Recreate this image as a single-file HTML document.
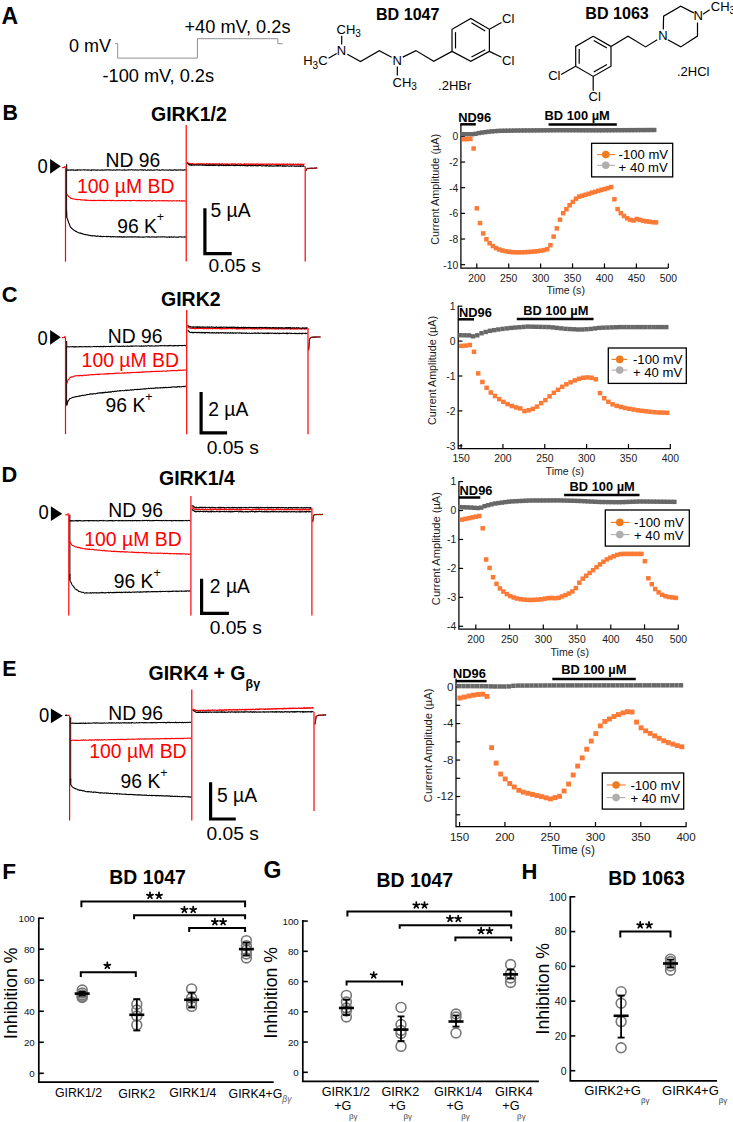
<!DOCTYPE html><html><head><meta charset="utf-8"><title>Figure</title>
<style>html,body{margin:0;padding:0;background:#fff;}svg{display:block;}text{font-family:"Liberation Sans",sans-serif;}</style></head><body>
<svg width="733" height="1122" viewBox="0 0 733 1122">
<rect width="733" height="1122" fill="#fff"/>
<text x="1.4" y="23.8" font-size="23.0" font-weight="bold">A</text>
<polyline points="115.00,43.70 117.70,43.70 117.70,58.10 197.40,58.10 197.40,38.70 277.90,38.70 277.90,43.70 282.80,43.70" fill="none" stroke="#909090" stroke-width="1.0"/>
<text x="69.0" y="51.5" font-size="18.0">0 mV</text>
<text x="184.5" y="32.5" font-size="18.2">+40 mV, 0.2s</text>
<text x="102.5" y="82.2" font-size="18.2">-100 mV, 0.2s</text>
<text x="376.0" y="20.2" font-size="16.1" font-weight="bold">BD 1047</text>
<text x="336.5" y="33.6" font-size="13.0">CH<tspan font-size="10" dy="3.4">3</tspan></text>
<line x1="341.70" y1="35.70" x2="341.70" y2="44.50" stroke="#000" stroke-width="1.2"/>
<text x="341.5" y="54.6" font-size="13.0" text-anchor="middle">N</text>
<text x="303.2" y="65.4" font-size="13.0">H<tspan font-size="10" dy="3.4">3</tspan><tspan dy="-3.4">C</tspan></text>
<line x1="328.60" y1="58.30" x2="336.70" y2="53.50" stroke="#000" stroke-width="1.2"/>
<polyline points="347.30,54.20 360.50,61.60 379.30,50.80 391.60,57.30" fill="none" stroke="#000" stroke-width="1.2"/>
<text x="397.2" y="64.9" font-size="13.0" text-anchor="middle">N</text>
<line x1="397.30" y1="66.50" x2="397.30" y2="75.50" stroke="#000" stroke-width="1.2"/>
<text x="392.5" y="86.8" font-size="13.0">CH<tspan font-size="10" dy="3.4">3</tspan></text>
<polyline points="402.80,57.10 415.90,50.60 433.70,61.20 452.00,51.40" fill="none" stroke="#000" stroke-width="1.2"/>
<polyline points="452.00,51.40 452.00,29.30 470.80,18.40 489.40,29.30 489.40,51.40 470.80,61.40 452.00,51.40" fill="none" stroke="#000" stroke-width="1.2"/>
<line x1="455.50" y1="48.46" x2="455.50" y2="32.11" stroke="#000" stroke-width="1.2"/>
<line x1="471.46" y1="22.84" x2="485.22" y2="30.91" stroke="#000" stroke-width="1.2"/>
<line x1="485.24" y1="49.66" x2="471.48" y2="57.06" stroke="#000" stroke-width="1.2"/>
<line x1="489.40" y1="29.30" x2="501.50" y2="22.60" stroke="#000" stroke-width="1.2"/>
<line x1="489.40" y1="51.40" x2="501.50" y2="57.30" stroke="#000" stroke-width="1.2"/>
<text x="502.0" y="23.1" font-size="13.0">Cl</text>
<text x="502.0" y="65.4" font-size="13.0">Cl</text>
<text x="438.1" y="89.6" font-size="13.0">.2HBr</text>
<text x="585.3" y="18.6" font-size="16.1" font-weight="bold">BD 1063</text>
<polyline points="593.20,36.20 611.00,46.40 611.00,66.20 593.20,76.40 575.70,66.20 575.70,46.40 593.20,36.20" fill="none" stroke="#000" stroke-width="1.2"/>
<line x1="593.74" y1="40.54" x2="606.91" y2="48.09" stroke="#000" stroke-width="1.2"/>
<line x1="579.20" y1="63.63" x2="579.20" y2="48.97" stroke="#000" stroke-width="1.2"/>
<line x1="606.91" y1="64.51" x2="593.74" y2="72.06" stroke="#000" stroke-width="1.2"/>
<line x1="575.70" y1="66.20" x2="561.10" y2="74.40" stroke="#000" stroke-width="1.2"/>
<line x1="593.20" y1="76.40" x2="593.20" y2="90.70" stroke="#000" stroke-width="1.2"/>
<text x="548.2" y="80.3" font-size="13.0">Cl</text>
<text x="588.6" y="100.7" font-size="13.0">Cl</text>
<polyline points="611.00,46.40 628.00,36.20 645.60,46.90 657.20,39.80" fill="none" stroke="#000" stroke-width="1.2"/>
<text x="663.0" y="40.3" font-size="13.0" text-anchor="middle">N</text>
<polyline points="663.30,29.50 663.60,16.20 680.70,6.20 693.80,12.90" fill="none" stroke="#000" stroke-width="1.2"/>
<text x="698.3" y="20.1" font-size="13.0" text-anchor="middle">N</text>
<polyline points="697.50,22.40 697.50,36.10 680.70,46.90 667.80,39.80" fill="none" stroke="#000" stroke-width="1.2"/>
<line x1="703.00" y1="14.20" x2="709.70" y2="9.80" stroke="#000" stroke-width="1.2"/>
<text x="710.8" y="10.8" font-size="13.0">CH<tspan font-size="10" dy="3.4">3</tspan></text>
<text x="677.0" y="75.9" font-size="13.0">.2HCl</text>
<text x="2.5" y="120.2" font-size="21.4" font-weight="bold">B</text>
<text x="151" y="121" font-size="19.5" font-weight="bold">GIRK1/2</text>
<text x="0" y="0" font-size="18.8" transform="translate(37.6,173.4) scale(0.98,1.1)">0</text>
<polygon points="50.1,158.9 60.8,166.3 50.1,173.7" fill="#000"/>
<polyline points="62.10,167.70 64.50,167.50 64.90,166.60 65.50,166.80" fill="none" stroke="#ff0000" stroke-width="1.2"/>
<polyline points="66.60,164.20 66.80,170.11 67.30,170.02 67.80,170.26 68.30,169.96 68.80,170.19 69.30,170.09 69.80,169.93 70.30,170.15 70.80,169.91 71.30,170.10 71.80,169.91 72.30,169.91 72.80,170.07 73.30,170.26 73.80,169.91 74.30,169.95 74.80,170.14 75.30,170.30 75.80,170.10 76.30,170.00 76.80,170.29 77.30,169.81 77.80,170.21 78.30,169.92 78.80,169.84 79.30,169.82 79.80,169.91 80.30,170.16 80.80,169.84 81.30,170.04 81.80,170.07 82.30,169.94 82.80,170.02 83.30,169.78 83.80,169.78 84.30,169.85 84.80,170.09 85.30,169.96 85.80,169.91 86.30,170.04 86.80,169.98 87.30,169.90 87.80,170.15 88.30,170.10 88.80,169.87 89.30,170.04 89.80,170.01 90.30,170.19 90.80,170.11 91.30,169.89 91.80,170.24 92.30,169.81 92.80,169.96 93.30,170.13 93.80,169.83 94.30,169.99 94.80,169.77 95.30,170.08 95.80,170.13 96.30,170.04 96.80,170.19 97.30,169.91 97.80,170.10 98.30,170.05 98.80,170.04 99.30,169.98 99.80,170.17 100.30,170.22 100.80,169.99 101.30,170.08 101.80,169.78 102.30,170.10 102.80,170.07 103.30,170.25 103.80,170.16 104.30,169.89 104.80,169.94 105.30,170.08 105.80,169.76 106.30,169.98 106.80,169.83 107.30,169.81 107.80,169.78 108.30,170.13 108.80,169.81 109.30,169.87 109.80,169.95 110.30,170.19 110.80,169.79 111.30,169.97 111.80,170.02 112.30,170.19 112.80,170.16 113.30,170.18 113.80,169.89 114.30,169.96 114.80,169.93 115.30,170.19 115.80,170.23 116.30,169.83 116.80,169.84 117.30,169.87 117.80,169.87 118.30,169.99 118.80,170.04 119.30,169.88 119.80,169.75 120.30,169.96 120.80,169.93 121.30,170.03 121.80,170.23 122.30,170.10 122.80,170.01 123.30,170.06 123.80,170.09 124.30,169.78 124.80,170.20 125.30,170.14 125.80,170.19 126.30,170.15 126.80,169.95 127.30,169.95 127.80,169.80 128.30,170.07 128.80,169.78 129.30,169.78 129.80,169.85 130.30,169.83 130.80,169.92 131.30,169.78 131.80,169.75 132.30,169.83 132.80,169.80 133.30,169.93 133.80,169.76 134.30,170.19 134.80,170.06 135.30,169.82 135.80,169.88 136.30,169.92 136.80,169.93 137.30,169.81 137.80,170.17 138.30,170.25 138.80,169.98 139.30,169.99 139.80,169.79 140.30,169.80 140.80,169.92 141.30,169.88 141.80,170.16 142.30,169.83 142.80,169.76 143.30,170.23 143.80,170.01 144.30,169.82 144.80,170.02 145.30,169.76 145.80,170.01 146.30,170.24 146.80,170.18 147.30,170.10 147.80,169.88 148.30,169.93 148.80,169.83 149.30,170.14 149.80,170.02 150.30,170.14 150.80,169.91 151.30,169.86 151.80,170.16 152.30,170.24 152.80,170.18 153.30,170.15 153.80,170.16 154.30,170.12 154.80,169.86 155.30,170.01 155.80,169.93 156.30,169.76 156.80,169.76 157.30,169.89 157.80,169.88 158.30,170.10 158.80,170.23 159.30,169.97 159.80,170.22 160.30,170.24 160.80,170.23 161.30,169.93 161.80,169.86 162.30,169.86 162.80,169.85 163.30,169.85 163.80,170.06 164.30,170.20 164.80,170.17 165.30,169.99 165.80,170.08 166.30,170.15 166.80,169.79 167.30,170.08 167.80,170.20 168.30,170.14 168.80,170.13 169.30,169.99 169.80,169.84 170.30,170.14 170.80,169.92 171.30,170.15 171.80,170.24 172.30,169.95 172.80,169.95 173.30,170.22 173.80,170.11 174.30,169.84 174.80,169.81 175.30,169.83 175.80,170.20 176.30,170.15 176.80,169.82 177.30,170.16 177.80,170.24 178.30,170.08 178.80,169.93 179.30,170.02 179.80,169.82 180.30,169.76 180.80,170.24 181.30,170.07 181.80,170.01 182.30,170.22 182.80,169.97 183.30,170.19 183.80,170.16 184.30,169.86 184.80,169.88 185.30,169.90 185.80,169.87" fill="none" stroke="#000" stroke-width="1.1"/>
<polyline points="66.60,211.30 66.80,217.34 67.30,218.56 67.80,220.02 68.30,221.26 68.80,223.01 69.30,224.06 69.80,225.45 70.30,226.84 70.80,227.50 71.30,227.76 71.80,228.51 72.30,228.80 72.80,229.32 73.30,229.81 73.80,230.06 74.30,230.61 74.80,230.72 75.30,230.86 75.80,231.49 76.30,231.42 76.80,231.80 77.30,232.16 77.80,232.31 78.30,232.43 78.80,232.76 79.30,232.94 79.80,233.19 80.30,232.99 80.80,233.36 81.30,233.34 81.80,233.50 82.30,233.88 82.80,233.89 83.30,234.06 83.80,234.30 84.30,234.51 84.80,234.42 85.30,234.61 85.80,234.64 86.30,234.73 86.80,234.91 87.30,234.88 87.80,235.01 88.30,235.07 88.80,235.39 89.30,235.35 89.80,235.53 90.30,235.65 90.80,235.39 91.30,235.63 91.80,235.91 92.30,235.95 92.80,235.68 93.30,235.73 93.80,235.92 94.30,235.76 94.80,235.88 95.30,235.82 95.80,236.15 96.30,236.23 96.80,236.32 97.30,235.98 97.80,236.29 98.30,236.29 98.80,236.06 99.30,236.46 99.80,236.53 100.30,236.19 100.80,236.58 101.30,236.33 101.80,236.41 102.30,236.69 102.80,236.64 103.30,236.33 103.80,236.50 104.30,236.57 104.80,236.51 105.30,236.45 105.80,236.53 106.30,236.74 106.80,236.40 107.30,236.67 107.80,236.63 108.30,236.43 108.80,236.59 109.30,236.75 109.80,236.70 110.30,236.49 110.80,236.96 111.30,236.87 111.80,236.97 112.30,236.55 112.80,236.64 113.30,236.54 113.80,236.92 114.30,236.67 114.80,236.61 115.30,236.77 115.80,237.02 116.30,236.99 116.80,236.72 117.30,236.67 117.80,237.07 118.30,236.90 118.80,236.98 119.30,236.68 119.80,236.67 120.30,237.00 120.80,236.88 121.30,236.71 121.80,237.16 122.30,237.01 122.80,237.11 123.30,236.76 123.80,237.15 124.30,236.77 124.80,237.18 125.30,236.98 125.80,236.92 126.30,237.03 126.80,237.21 127.30,236.88 127.80,236.81 128.30,237.01 128.80,236.87 129.30,236.80 129.80,236.83 130.30,236.78 130.80,236.85 131.30,236.91 131.80,236.90 132.30,237.13 132.80,236.89 133.30,237.00 133.80,236.84 134.30,236.92 134.80,236.76 135.30,236.88 135.80,236.76 136.30,237.12 136.80,237.03 137.30,236.84 137.80,236.99 138.30,237.22 138.80,236.80 139.30,237.16 139.80,236.97 140.30,237.00 140.80,237.17 141.30,236.95 141.80,237.00 142.30,237.09 142.80,237.24 143.30,236.92 143.80,237.17 144.30,237.10 144.80,237.07 145.30,236.95 145.80,236.92 146.30,236.78 146.80,236.81 147.30,236.79 147.80,237.12 148.30,236.88 148.80,236.83 149.30,236.79 149.80,237.17 150.30,237.19 150.80,237.09 151.30,236.89 151.80,236.87 152.30,236.90 152.80,236.98 153.30,236.83 153.80,236.97 154.30,236.88 154.80,237.23 155.30,237.24 155.80,237.02 156.30,236.87 156.80,237.23 157.30,236.90 157.80,236.93 158.30,236.75 158.80,236.94 159.30,236.99 159.80,237.00 160.30,236.85 160.80,237.00 161.30,236.75 161.80,236.88 162.30,236.79 162.80,236.95 163.30,236.77 163.80,236.76 164.30,236.90 164.80,236.87 165.30,237.04 165.80,237.01 166.30,237.13 166.80,237.08 167.30,237.11 167.80,237.19 168.30,236.94 168.80,236.91 169.30,237.24 169.80,236.82 170.30,237.11 170.80,237.07 171.30,236.77 171.80,237.17 172.30,237.20 172.80,237.06 173.30,237.12 173.80,237.16 174.30,236.82 174.80,237.01 175.30,237.00 175.80,237.17 176.30,237.15 176.80,237.16 177.30,237.04 177.80,237.20 178.30,237.09 178.80,237.10 179.30,236.86 179.80,236.77 180.30,236.82 180.80,236.93 181.30,236.80 181.80,237.17 182.30,237.03 182.80,237.06 183.30,237.06 183.80,237.09 184.30,236.99 184.80,236.75 185.30,237.15 185.80,237.12" fill="none" stroke="#000" stroke-width="1.1"/>
<line x1="66.60" y1="169.70" x2="66.60" y2="217.30" stroke="#000" stroke-width="1.0"/>
<polyline points="66.80,193.90 67.30,194.68 67.80,195.51 68.30,195.98 68.80,196.84 69.30,196.98 69.80,197.26 70.30,197.73 70.80,198.34 71.30,198.24 71.80,198.62 72.30,198.84 72.80,198.71 73.30,198.76 73.80,198.92 74.30,199.13 74.80,199.28 75.30,199.32 75.80,199.44 76.30,199.27 76.80,199.35 77.30,199.44 77.80,199.71 78.30,199.53 78.80,199.69 79.30,199.45 79.80,199.51 80.30,199.64 80.80,199.88 81.30,199.92 81.80,199.95 82.30,199.79 82.80,199.93 83.30,199.94 83.80,199.97 84.30,199.83 84.80,200.25 85.30,199.94 85.80,200.36 86.30,200.37 86.80,199.95 87.30,200.20 87.80,200.41 88.30,200.52 88.80,200.30 89.30,200.24 89.80,200.24 90.30,200.62 90.80,200.26 91.30,200.45 91.80,200.23 92.30,200.42 92.80,200.64 93.30,200.23 93.80,200.58 94.30,200.43 94.80,200.62 95.30,200.53 95.80,200.30 96.30,200.63 96.80,200.43 97.30,200.20 97.80,200.19 98.30,200.44 98.80,200.42 99.30,200.35 99.80,200.27 100.30,200.38 100.80,200.36 101.30,200.63 101.80,200.21 102.30,200.59 102.80,200.64 103.30,200.28 103.80,200.69 104.30,200.58 104.80,200.68 105.30,200.38 105.80,200.42 106.30,200.43 106.80,200.74 107.30,200.54 107.80,200.42 108.30,200.46 108.80,200.39 109.30,200.28 109.80,200.30 110.30,200.67 110.80,200.40 111.30,200.73 111.80,200.39 112.30,200.40 112.80,200.52 113.30,200.37 113.80,200.46 114.30,200.76 114.80,200.72 115.30,200.69 115.80,200.60 116.30,200.74 116.80,200.76 117.30,200.57 117.80,200.66 118.30,200.32 118.80,200.67 119.30,200.53 119.80,200.68 120.30,200.63 120.80,200.45 121.30,200.34 121.80,200.78 122.30,200.38 122.80,200.56 123.30,200.50 123.80,200.48 124.30,200.70 124.80,200.82 125.30,200.46 125.80,200.67 126.30,200.49 126.80,200.62 127.30,200.54 127.80,200.43 128.30,200.43 128.80,200.46 129.30,200.81 129.80,200.61 130.30,200.47 130.80,200.82 131.30,200.86 131.80,200.59 132.30,200.44 132.80,200.47 133.30,200.42 133.80,200.55 134.30,200.43 134.80,200.50 135.30,200.52 135.80,200.67 136.30,200.84 136.80,200.77 137.30,200.60 137.80,200.61 138.30,200.66 138.80,200.59 139.30,200.58 139.80,200.44 140.30,200.55 140.80,200.90 141.30,200.48 141.80,200.67 142.30,200.74 142.80,200.86 143.30,200.54 143.80,200.57 144.30,200.56 144.80,200.64 145.30,200.66 145.80,200.92 146.30,200.87 146.80,200.88 147.30,200.46 147.80,200.47 148.30,200.81 148.80,200.91 149.30,200.70 149.80,200.76 150.30,200.47 150.80,200.66 151.30,200.93 151.80,200.89 152.30,200.90 152.80,200.96 153.30,200.61 153.80,200.54 154.30,200.56 154.80,200.75 155.30,200.83 155.80,200.97 156.30,200.86 156.80,200.82 157.30,200.88 157.80,200.73 158.30,200.78 158.80,200.53 159.30,200.90 159.80,200.63 160.30,200.98 160.80,200.84 161.30,200.68 161.80,200.59 162.30,200.65 162.80,200.85 163.30,200.88 163.80,200.59 164.30,200.57 164.80,200.80 165.30,200.84 165.80,200.74 166.30,200.66 166.80,200.85 167.30,200.56 167.80,200.71 168.30,200.79 168.80,201.04 169.30,200.89 169.80,201.01 170.30,200.81 170.80,200.69 171.30,200.70 171.80,201.06 172.30,200.93 172.80,200.74 173.30,200.60 173.80,200.84 174.30,200.93 174.80,200.80 175.30,200.73 175.80,200.93 176.30,201.06 176.80,200.72 177.30,200.62 177.80,200.78 178.30,200.82 178.80,200.96 179.30,200.72 179.80,201.02 180.30,200.99 180.80,200.88 181.30,200.73 181.80,201.12 182.30,200.79 182.80,201.05 183.30,200.75 183.80,200.75 184.30,201.02 184.80,200.79 185.30,201.12 185.80,200.90" fill="none" stroke="#ff0000" stroke-width="1.1"/>
<polyline points="187.00,162.31 187.50,162.58 188.00,162.95 188.50,163.35 189.00,163.77 189.50,163.54 190.00,163.94 190.50,163.83 191.00,164.29 191.50,163.79 192.00,163.74 192.50,163.74 193.00,163.95 193.50,164.25 194.00,164.24 194.50,164.15 195.00,164.32 195.50,164.28 196.00,163.92 196.50,163.83 197.00,164.28 197.50,164.17 198.00,163.75 198.50,164.13 199.00,163.96 199.50,163.96 200.00,163.93 200.50,163.84 201.00,163.74 201.50,163.91 202.00,163.95 202.50,164.31 203.00,163.82 203.50,164.32 204.00,163.87 204.50,163.96 205.00,164.24 205.50,164.24 206.00,164.01 206.50,163.78 207.00,164.04 207.50,163.98 208.00,164.31 208.50,163.88 209.00,163.98 209.50,164.30 210.00,163.78 210.50,164.01 211.00,164.26 211.50,164.23 212.00,163.80 212.50,163.80 213.00,163.81 213.50,164.33 214.00,163.93 214.50,164.23 215.00,164.32 215.50,163.99 216.00,163.95 216.50,164.36 217.00,164.16 217.50,163.95 218.00,164.22 218.50,163.98 219.00,163.96 219.50,163.80 220.00,164.25 220.50,164.35 221.00,164.18 221.50,164.37 222.00,163.82 222.50,163.95 223.00,164.10 223.50,164.39 224.00,164.39 224.50,164.05 225.00,163.97 225.50,164.08 226.00,164.12 226.50,164.38 227.00,163.93 227.50,164.31 228.00,164.27 228.50,164.32 229.00,164.29 229.50,164.20 230.00,164.03 230.50,164.03 231.00,164.05 231.50,164.31 232.00,163.89 232.50,163.96 233.00,164.30 233.50,163.99 234.00,163.89 234.50,163.87 235.00,164.18 235.50,164.05 236.00,164.44 236.50,164.39 237.00,164.45 237.50,164.02 238.00,163.91 238.50,163.92 239.00,164.16 239.50,164.29 240.00,164.13 240.50,164.01 241.00,164.12 241.50,164.24 242.00,164.28 242.50,164.32 243.00,164.38 243.50,164.28 244.00,163.95 244.50,164.39 245.00,164.06 245.50,164.23 246.00,164.11 246.50,164.33 247.00,164.01 247.50,164.04 248.00,164.04 248.50,163.99 249.00,164.43 249.50,164.25 250.00,164.10 250.50,164.14 251.00,164.50 251.50,164.21 252.00,164.05 252.50,164.39 253.00,164.30 253.50,164.51 254.00,163.98 254.50,164.20 255.00,164.41 255.50,164.42 256.00,164.47 256.50,163.95 257.00,164.10 257.50,164.00 258.00,164.04 258.50,164.51 259.00,164.28 259.50,164.49 260.00,164.16 260.50,164.46 261.00,164.21 261.50,164.10 262.00,164.41 262.50,164.51 263.00,164.01 263.50,164.31 264.00,164.32 264.50,164.08 265.00,164.18 265.50,164.04 266.00,164.08 266.50,164.11 267.00,164.32 267.50,164.36 268.00,164.09 268.50,163.97 269.00,164.17 269.50,164.38 270.00,164.08 270.50,164.16 271.00,164.10 271.50,164.46 272.00,164.31 272.50,164.02 273.00,164.05 273.50,164.22 274.00,164.32 274.50,164.37 275.00,164.05 275.50,164.09 276.00,164.41 276.50,164.24 277.00,164.17 277.50,164.19 278.00,164.57 278.50,164.19 279.00,164.35 279.50,164.22 280.00,164.26 280.50,164.53 281.00,164.61 281.50,164.23 282.00,164.14 282.50,164.46 283.00,164.14 283.50,164.03 284.00,164.57 284.50,164.28 285.00,164.52 285.50,164.27 286.00,164.56 286.50,164.31 287.00,164.13 287.50,164.05 288.00,164.37 288.50,164.43 289.00,164.59 289.50,164.10 290.00,164.42 290.50,164.27 291.00,164.35 291.50,164.14 292.00,164.22 292.50,164.37 293.00,164.61 293.50,164.12 294.00,164.36 294.50,164.55 295.00,164.65 295.50,164.19 296.00,164.14 296.50,164.64 297.00,164.66 297.50,164.36 298.00,164.11 298.50,164.63 299.00,164.31 299.50,164.62 300.00,164.46 300.50,164.58 301.00,164.18 301.50,164.56 302.00,164.22 302.50,164.34 303.00,164.60 303.50,164.59 304.00,164.21 304.50,164.23" fill="none" stroke="#ff0000" stroke-width="1.3"/>
<polyline points="187.00,163.44 187.40,163.71 187.80,163.83 188.20,163.87 188.60,164.15 189.00,164.63 189.40,164.94 189.80,164.62 190.20,165.04 190.60,165.16 191.00,164.73 191.40,165.22 191.80,164.79 192.20,165.08 192.60,165.06 193.00,165.11 193.40,164.92 193.80,164.99 194.20,165.09 194.60,165.00 195.00,165.15 195.40,165.02 195.80,165.02 196.20,164.78 196.60,165.14 197.00,165.06 197.40,164.92 197.80,165.24 198.20,165.25 198.60,165.06 199.00,164.90 199.40,165.08 199.80,164.86 200.20,164.88 200.60,165.06 201.00,164.87 201.40,165.08 201.80,165.12 202.20,164.85 202.60,165.21 203.00,164.88 203.40,165.27 203.80,165.30 204.20,165.15 204.60,164.88 205.00,165.15 205.40,165.08 205.80,165.43 206.20,164.94 206.60,165.38 207.00,165.47 207.40,165.31 207.80,165.37 208.20,165.00 208.60,165.48 209.00,165.19 209.40,165.47 209.80,165.45 210.20,165.00 210.60,165.38 211.00,165.47 211.40,164.95 211.80,165.13 212.20,165.38 212.60,165.02 213.00,165.47 213.40,165.10 213.80,165.43 214.20,165.03 214.60,165.25 215.00,165.50 215.40,165.08 215.80,165.12 216.20,165.27 216.60,165.16 217.00,164.99 217.40,165.08 217.80,165.07 218.20,165.54 218.60,165.39 219.00,165.53 219.40,165.10 219.80,165.47 220.20,165.07 220.60,165.32 221.00,165.39 221.40,165.23 221.80,165.54 222.20,165.36 222.60,165.37 223.00,165.56 223.40,165.10 223.80,165.63 224.20,165.42 224.60,165.28 225.00,165.53 225.40,165.21 225.80,165.65 226.20,165.41 226.60,165.28 227.00,165.53 227.40,165.34 227.80,165.18 228.20,165.53 228.60,165.11 229.00,165.58 229.40,165.25 229.80,165.48 230.20,165.69 230.60,165.46 231.00,165.51 231.40,165.30 231.80,165.12 232.20,165.14 232.60,165.22 233.00,165.50 233.40,165.39 233.80,165.45 234.20,165.68 234.60,165.23 235.00,165.29 235.40,165.55 235.80,165.17 236.20,165.16 236.60,165.38 237.00,165.23 237.40,165.39 237.80,165.31 238.20,165.53 238.60,165.54 239.00,165.31 239.40,165.57 239.80,165.48 240.20,165.28 240.60,165.77 241.00,165.36 241.40,165.30 241.80,165.28 242.20,165.60 242.60,165.75 243.00,165.70 243.40,165.48 243.80,165.40 244.20,165.25 244.60,165.63 245.00,165.59 245.40,165.46 245.80,165.65 246.20,165.53 246.60,165.83 247.00,165.71 247.40,165.42 247.80,165.82 248.20,165.31 248.60,165.60 249.00,165.53 249.40,165.44 249.80,165.33 250.20,165.77 250.60,165.31 251.00,165.64 251.40,165.88 251.80,165.41 252.20,165.44 252.60,165.69 253.00,165.64 253.40,165.72 253.80,165.83 254.20,165.45 254.60,165.54 255.00,165.54 255.40,165.39 255.80,165.90 256.20,165.84 256.60,165.80 257.00,165.38 257.40,165.89 257.80,165.83 258.20,165.67 258.60,165.84 259.00,165.67 259.40,165.54 259.80,165.47 260.20,165.55 260.60,165.44 261.00,165.62 261.40,165.88 261.80,165.85 262.20,165.94 262.60,165.87 263.00,165.60 263.40,165.78 263.80,165.71 264.20,165.93 264.60,165.77 265.00,165.62 265.40,165.85 265.80,166.05 266.20,165.61 266.60,166.01 267.00,165.50 267.40,165.65 267.80,165.64 268.20,165.95 268.60,166.07 269.00,165.96 269.40,165.71 269.80,166.05 270.20,165.72 270.60,165.67 271.00,166.08 271.40,165.91 271.80,165.96 272.20,165.94 272.60,166.14 273.00,165.83 273.40,166.06 273.80,165.98 274.20,166.08 274.60,165.83 275.00,166.01 275.40,165.92 275.80,165.77 276.20,165.72 276.60,165.97 277.00,165.64 277.40,166.15 277.80,165.69 278.20,165.63 278.60,165.68 279.00,166.18 279.40,165.83 279.80,165.71 280.20,165.65 280.60,165.66 281.00,166.06 281.40,166.03 281.80,166.07 282.20,166.10 282.60,165.70 283.00,166.02 283.40,165.89 283.80,166.16 284.20,166.17 284.60,166.22 285.00,165.72 285.40,166.21 285.80,166.24 286.20,166.27 286.60,165.77 287.00,165.83 287.40,165.78 287.80,165.74 288.20,166.23 288.60,166.21 289.00,166.11 289.40,166.23 289.80,166.12 290.20,165.91 290.60,165.81 291.00,165.81 291.40,166.21 291.80,165.88 292.20,165.96 292.60,166.02 293.00,165.79 293.40,165.93 293.80,165.95 294.20,166.22 294.60,166.01 295.00,165.99 295.40,166.38 295.80,166.11 296.20,166.32 296.60,166.18 297.00,165.84 297.40,166.07 297.80,166.09 298.20,166.29 298.60,166.04 299.00,166.26 299.40,166.17 299.80,165.98 300.20,166.37 300.60,165.91 301.00,166.35 301.40,165.97 301.80,165.87 302.20,166.00 302.60,166.34 303.00,166.47 303.40,165.89 303.80,166.19 304.20,166.19 304.60,166.38" fill="none" stroke="#000" stroke-width="1.1"/>
<polyline points="305.80,170.87 306.30,169.96 306.80,168.86 307.30,168.62 307.80,168.37 308.30,168.61 308.80,168.33 309.30,168.27 309.80,168.44 310.30,168.34 310.80,168.16 311.30,168.35 311.80,168.10 312.30,168.36 312.80,168.30 313.30,168.31 313.80,168.22 314.30,168.09 314.80,168.08 315.30,168.05 315.80,168.23 316.30,167.88 316.80,168.18 317.30,167.81" fill="none" stroke="#000" stroke-width="1.1"/>
<polyline points="305.80,170.91 306.30,169.89 306.80,169.04 307.30,168.49 307.80,168.42 308.30,168.55 308.80,168.33 309.30,168.38 309.80,168.37 310.30,168.42 310.80,168.39 311.30,168.34 311.80,168.22 312.30,168.19 312.80,168.12 313.30,168.30 313.80,168.22 314.30,168.22 314.80,168.02 315.30,168.08 315.80,168.15 316.30,168.07 316.80,167.91 317.30,167.99" fill="none" stroke="#ff0000" stroke-width="1.0" opacity="0.8"/>
<line x1="65.50" y1="167.30" x2="65.50" y2="261.60" stroke="#ff0000" stroke-width="1.2"/>
<line x1="186.20" y1="125.00" x2="186.20" y2="261.60" stroke="#ff0000" stroke-width="1.2"/>
<line x1="305.20" y1="166.20" x2="305.20" y2="261.60" stroke="#ff0000" stroke-width="1.2"/>
<path d="M204.9,208.2 V253.6 H231.7" fill="none" stroke="#000" stroke-width="3.2" stroke-linecap="butt" stroke-linejoin="miter"/>
<text x="210.5" y="217.4" font-size="19.3">5 µA</text>
<text x="208.6" y="272.1" font-size="19.2">0.05 s</text>
<text x="105.6" y="166.5" font-size="19.3">ND 96</text>
<text x="77.0" y="193.2" font-size="19.4" fill="#ff0000">100 µM BD</text>
<text x="117.2" y="232.8" font-size="19.3">96 K<tspan font-size="12.5" dy="-11.5">+</tspan></text>
<text x="1.8" y="301.6" font-size="21.8" font-weight="bold">C</text>
<text x="161" y="305.6" font-size="19.5" font-weight="bold">GIRK2</text>
<text x="0" y="0" font-size="18.8" transform="translate(37.6,345.0) scale(0.98,1.1)">0</text>
<polygon points="50.1,329.9 60.8,337.3 50.1,344.7" fill="#000"/>
<polyline points="62.10,337.70 64.50,337.50 64.90,336.60 65.50,336.80" fill="none" stroke="#ff0000" stroke-width="1.2"/>
<polyline points="66.60,340.90 66.80,347.09 67.30,346.76 67.80,346.73 68.30,346.78 68.80,346.98 69.30,347.04 69.80,346.69 70.30,346.69 70.80,346.73 71.30,346.76 71.80,346.85 72.30,346.67 72.80,346.75 73.30,346.67 73.80,347.06 74.30,346.93 74.80,346.61 75.30,347.04 75.80,346.60 76.30,346.73 76.80,347.03 77.30,346.93 77.80,346.89 78.30,346.74 78.80,346.61 79.30,346.83 79.80,346.56 80.30,346.60 80.80,346.69 81.30,346.50 81.80,346.68 82.30,346.87 82.80,346.82 83.30,346.71 83.80,346.77 84.30,346.68 84.80,346.52 85.30,346.74 85.80,346.64 86.30,346.80 86.80,346.88 87.30,346.63 87.80,346.70 88.30,346.78 88.80,346.61 89.30,346.51 89.80,346.75 90.30,346.83 90.80,346.77 91.30,346.72 91.80,346.79 92.30,346.70 92.80,346.68 93.30,346.58 93.80,346.50 94.30,346.65 94.80,346.38 95.30,346.54 95.80,346.71 96.30,346.67 96.80,346.63 97.30,346.43 97.80,346.51 98.30,346.52 98.80,346.60 99.30,346.49 99.80,346.62 100.30,346.74 100.80,346.36 101.30,346.59 101.80,346.64 102.30,346.44 102.80,346.49 103.30,346.73 103.80,346.25 104.30,346.50 104.80,346.30 105.30,346.61 105.80,346.68 106.30,346.46 106.80,346.25 107.30,346.48 107.80,346.46 108.30,346.54 108.80,346.43 109.30,346.49 109.80,346.58 110.30,346.42 110.80,346.36 111.30,346.62 111.80,346.25 112.30,346.48 112.80,346.33 113.30,346.51 113.80,346.18 114.30,346.61 114.80,346.29 115.30,346.13 115.80,346.23 116.30,346.29 116.80,346.09 117.30,346.29 117.80,346.29 118.30,346.42 118.80,346.24 119.30,346.19 119.80,346.16 120.30,346.42 120.80,346.51 121.30,346.30 121.80,346.14 122.30,346.42 122.80,346.21 123.30,346.12 123.80,346.07 124.30,346.39 124.80,346.40 125.30,346.30 125.80,346.21 126.30,346.25 126.80,346.08 127.30,346.44 127.80,346.13 128.30,346.27 128.80,346.35 129.30,346.35 129.80,346.17 130.30,346.07 130.80,346.19 131.30,345.98 131.80,346.32 132.30,346.08 132.80,346.32 133.30,346.02 133.80,346.07 134.30,346.00 134.80,346.08 135.30,345.96 135.80,345.86 136.30,346.21 136.80,345.99 137.30,345.96 137.80,345.99 138.30,346.07 138.80,346.04 139.30,346.13 139.80,346.14 140.30,345.99 140.80,346.26 141.30,346.22 141.80,345.81 142.30,346.19 142.80,346.23 143.30,346.16 143.80,345.83 144.30,346.17 144.80,346.07 145.30,345.75 145.80,345.74 146.30,346.21 146.80,346.05 147.30,345.84 147.80,345.76 148.30,345.78 148.80,345.82 149.30,346.08 149.80,345.86 150.30,345.76 150.80,346.13 151.30,346.07 151.80,345.75 152.30,346.10 152.80,345.96 153.30,346.04 153.80,345.97 154.30,346.08 154.80,346.02 155.30,346.04 155.80,345.71 156.30,345.96 156.80,345.87 157.30,345.97 157.80,345.81 158.30,346.03 158.80,345.86 159.30,345.71 159.80,345.68 160.30,345.63 160.80,345.80 161.30,345.58 161.80,345.78 162.30,345.61 162.80,345.78 163.30,345.77 163.80,345.79 164.30,345.94 164.80,345.51 165.30,345.92 165.80,345.73 166.30,345.77 166.80,345.82 167.30,345.90 167.80,345.66 168.30,345.67 168.80,345.94 169.30,345.49 169.80,345.76 170.30,345.76 170.80,345.45 171.30,345.73 171.80,345.76 172.30,345.88 172.80,345.58 173.30,345.89 173.80,345.65 174.30,345.63 174.80,345.83 175.30,345.40 175.80,345.73 176.30,345.68 176.80,345.53 177.30,345.79 177.80,345.53 178.30,345.58 178.80,345.60 179.30,345.72 179.80,345.43 180.30,345.54 180.80,345.52 181.30,345.58 181.80,345.71 182.30,345.44 182.80,345.70 183.30,345.48 183.80,345.53 184.30,345.41 184.80,345.52 185.30,345.75 185.80,345.58 186.30,345.65" fill="none" stroke="#000" stroke-width="1.1"/>
<polyline points="66.60,399.50 66.80,405.42 67.30,403.53 67.80,401.65 68.30,400.67 68.80,400.07 69.30,399.52 69.80,398.52 70.30,398.51 70.80,398.42 71.30,398.08 71.80,397.66 72.30,397.62 72.80,397.30 73.30,397.22 73.80,397.42 74.30,397.09 74.80,396.95 75.30,396.89 75.80,396.87 76.30,396.63 76.80,396.55 77.30,396.46 77.80,396.41 78.30,396.28 78.80,396.23 79.30,395.91 79.80,396.05 80.30,395.86 80.80,395.93 81.30,395.51 81.80,395.46 82.30,395.30 82.80,395.59 83.30,395.57 83.80,395.35 84.30,395.12 84.80,395.26 85.30,395.16 85.80,394.96 86.30,394.72 86.80,394.66 87.30,394.63 87.80,394.49 88.30,394.46 88.80,394.48 89.30,394.54 89.80,394.01 90.30,394.20 90.80,393.88 91.30,393.86 91.80,394.15 92.30,393.98 92.80,394.09 93.30,393.80 93.80,393.53 94.30,393.66 94.80,393.70 95.30,393.82 95.80,393.78 96.30,393.47 96.80,393.39 97.30,393.17 97.80,393.39 98.30,393.12 98.80,393.03 99.30,392.90 99.80,392.84 100.30,393.12 100.80,392.79 101.30,393.15 101.80,392.66 102.30,392.99 102.80,392.56 103.30,392.45 103.80,392.75 104.30,392.45 104.80,392.64 105.30,392.31 105.80,392.18 106.30,392.49 106.80,392.40 107.30,392.42 107.80,392.30 108.30,391.92 108.80,392.13 109.30,392.12 109.80,391.94 110.30,392.12 110.80,391.72 111.30,392.02 111.80,391.84 112.30,391.43 112.80,391.37 113.30,391.63 113.80,391.66 114.30,391.24 114.80,391.29 115.30,391.45 115.80,391.11 116.30,391.40 116.80,391.16 117.30,390.89 117.80,390.98 118.30,391.03 118.80,390.91 119.30,390.97 119.80,390.65 120.30,390.92 120.80,390.67 121.30,390.77 121.80,390.72 122.30,390.57 122.80,390.52 123.30,390.68 123.80,390.72 124.30,390.60 124.80,390.45 125.30,390.27 125.80,390.12 126.30,390.53 126.80,390.36 127.30,390.38 127.80,390.09 128.30,390.19 128.80,390.33 129.30,390.22 129.80,390.07 130.30,389.88 130.80,389.90 131.30,390.09 131.80,389.79 132.30,389.91 132.80,389.83 133.30,389.93 133.80,389.85 134.30,389.55 134.80,389.37 135.30,389.46 135.80,389.50 136.30,389.54 136.80,389.61 137.30,389.61 137.80,389.15 138.30,389.50 138.80,389.45 139.30,389.44 139.80,389.25 140.30,389.06 140.80,389.31 141.30,389.25 141.80,389.15 142.30,389.22 142.80,388.90 143.30,388.73 143.80,388.92 144.30,389.00 144.80,388.67 145.30,388.90 145.80,388.95 146.30,388.56 146.80,388.71 147.30,388.70 147.80,388.56 148.30,388.39 148.80,388.37 149.30,388.58 149.80,388.56 150.30,388.36 150.80,388.15 151.30,388.48 151.80,388.44 152.30,388.14 152.80,388.28 153.30,388.42 153.80,388.38 154.30,388.17 154.80,388.12 155.30,388.15 155.80,387.92 156.30,387.90 156.80,387.86 157.30,388.09 157.80,387.90 158.30,387.97 158.80,387.86 159.30,387.89 159.80,387.68 160.30,387.60 160.80,388.05 161.30,387.71 161.80,387.55 162.30,387.78 162.80,387.83 163.30,387.49 163.80,387.68 164.30,387.53 164.80,387.59 165.30,387.31 165.80,387.29 166.30,387.74 166.80,387.65 167.30,387.43 167.80,387.44 168.30,387.26 168.80,387.50 169.30,387.29 169.80,387.52 170.30,387.41 170.80,387.40 171.30,387.45 171.80,387.07 172.30,386.93 172.80,386.98 173.30,386.95 173.80,386.87 174.30,386.83 174.80,387.05 175.30,387.18 175.80,386.95 176.30,387.16 176.80,387.12 177.30,386.67 177.80,386.90 178.30,386.78 178.80,386.61 179.30,387.00 179.80,386.62 180.30,386.75 180.80,386.76 181.30,386.89 181.80,386.72 182.30,386.55 182.80,386.55 183.30,386.38 183.80,386.76 184.30,386.74 184.80,386.33 185.30,386.21 185.80,386.29 186.30,386.33" fill="none" stroke="#000" stroke-width="1.1"/>
<line x1="66.60" y1="346.40" x2="66.60" y2="405.50" stroke="#000" stroke-width="1.0"/>
<polyline points="66.80,383.90 67.30,382.36 67.80,380.79 68.30,379.40 68.80,379.14 69.30,378.48 69.80,377.82 70.30,377.65 70.80,377.04 71.30,376.93 71.80,377.09 72.30,377.03 72.80,376.75 73.30,376.41 73.80,376.41 74.30,376.34 74.80,375.86 75.30,375.89 75.80,375.82 76.30,375.72 76.80,375.86 77.30,375.67 77.80,375.67 78.30,375.58 78.80,375.82 79.30,375.45 79.80,375.76 80.30,375.47 80.80,375.35 81.30,375.76 81.80,375.37 82.30,375.69 82.80,375.62 83.30,375.60 83.80,375.19 84.30,375.30 84.80,375.09 85.30,375.47 85.80,375.39 86.30,375.25 86.80,375.13 87.30,375.03 87.80,375.24 88.30,375.03 88.80,375.07 89.30,374.79 89.80,374.80 90.30,374.68 90.80,374.97 91.30,374.85 91.80,374.61 92.30,374.94 92.80,374.60 93.30,374.64 93.80,374.47 94.30,374.50 94.80,374.74 95.30,374.46 95.80,374.34 96.30,374.46 96.80,374.34 97.30,374.60 97.80,374.17 98.30,374.56 98.80,374.06 99.30,374.45 99.80,374.30 100.30,374.04 100.80,374.15 101.30,374.03 101.80,373.99 102.30,373.94 102.80,373.99 103.30,374.28 103.80,374.26 104.30,374.20 104.80,373.76 105.30,373.83 105.80,374.11 106.30,373.66 106.80,373.97 107.30,373.73 107.80,374.05 108.30,373.54 108.80,373.91 109.30,373.66 109.80,373.53 110.30,373.44 110.80,373.83 111.30,373.65 111.80,373.45 112.30,373.55 112.80,373.77 113.30,373.39 113.80,373.55 114.30,373.30 114.80,373.30 115.30,373.57 115.80,373.52 116.30,373.23 116.80,373.15 117.30,373.13 117.80,373.36 118.30,373.28 118.80,373.15 119.30,373.09 119.80,373.27 120.30,373.29 120.80,373.32 121.30,373.18 121.80,372.96 122.30,372.87 122.80,373.18 123.30,372.99 123.80,373.12 124.30,372.76 124.80,373.12 125.30,372.85 125.80,373.08 126.30,373.07 126.80,372.86 127.30,372.59 127.80,373.02 128.30,372.77 128.80,372.95 129.30,372.62 129.80,372.55 130.30,372.85 130.80,372.59 131.30,372.47 131.80,372.55 132.30,372.63 132.80,372.31 133.30,372.54 133.80,372.48 134.30,372.49 134.80,372.27 135.30,372.54 135.80,372.57 136.30,372.57 136.80,372.27 137.30,372.44 137.80,372.25 138.30,372.41 138.80,372.04 139.30,372.42 139.80,372.44 140.30,372.18 140.80,372.17 141.30,372.15 141.80,372.13 142.30,371.85 142.80,372.30 143.30,371.90 143.80,371.86 144.30,371.80 144.80,371.85 145.30,372.11 145.80,371.69 146.30,371.70 146.80,371.97 147.30,371.70 147.80,371.59 148.30,371.85 148.80,371.82 149.30,371.77 149.80,371.83 150.30,371.51 150.80,371.87 151.30,371.77 151.80,371.41 152.30,371.42 152.80,371.58 153.30,371.56 153.80,371.43 154.30,371.33 154.80,371.44 155.30,371.29 155.80,371.49 156.30,371.60 156.80,371.22 157.30,371.41 157.80,371.47 158.30,371.16 158.80,371.46 159.30,371.50 159.80,371.20 160.30,371.19 160.80,371.38 161.30,371.19 161.80,371.11 162.30,371.35 162.80,371.25 163.30,371.00 163.80,370.93 164.30,370.96 164.80,370.98 165.30,371.23 165.80,371.12 166.30,371.15 166.80,371.08 167.30,371.07 167.80,370.65 168.30,370.86 168.80,371.05 169.30,371.02 169.80,370.65 170.30,370.71 170.80,370.79 171.30,370.64 171.80,370.69 172.30,370.44 172.80,370.60 173.30,370.61 173.80,370.34 174.30,370.38 174.80,370.77 175.30,370.65 175.80,370.71 176.30,370.53 176.80,370.59 177.30,370.61 177.80,370.58 178.30,370.14 178.80,370.42 179.30,370.20 179.80,370.39 180.30,370.16 180.80,370.27 181.30,370.44 181.80,370.26 182.30,370.05 182.80,370.16 183.30,370.10 183.80,370.33 184.30,369.98 184.80,369.96 185.30,370.11 185.80,369.82 186.30,370.05" fill="none" stroke="#ff0000" stroke-width="1.1"/>
<polyline points="187.50,326.77 188.00,326.89 188.50,327.12 189.00,327.62 189.50,328.04 190.00,328.19 190.50,328.18 191.00,328.18 191.50,328.28 192.00,328.35 192.50,328.28 193.00,328.26 193.50,328.16 194.00,328.44 194.50,328.62 195.00,328.48 195.50,328.46 196.00,328.51 196.50,328.24 197.00,328.55 197.50,328.40 198.00,328.46 198.50,328.50 199.00,328.41 199.50,328.32 200.00,328.28 200.50,328.27 201.00,328.44 201.50,328.37 202.00,328.49 202.50,328.15 203.00,328.35 203.50,328.66 204.00,328.29 204.50,328.48 205.00,328.44 205.50,328.32 206.00,328.75 206.50,328.33 207.00,328.62 207.50,328.25 208.00,328.20 208.50,328.68 209.00,328.43 209.50,328.20 210.00,328.40 210.50,328.43 211.00,328.61 211.50,328.24 212.00,328.31 212.50,328.75 213.00,328.62 213.50,328.27 214.00,328.38 214.50,328.39 215.00,328.59 215.50,328.55 216.00,328.70 216.50,328.68 217.00,328.50 217.50,328.63 218.00,328.64 218.50,328.65 219.00,328.48 219.50,328.67 220.00,328.63 220.50,328.75 221.00,328.28 221.50,328.73 222.00,328.21 222.50,328.67 223.00,328.56 223.50,328.51 224.00,328.79 224.50,328.56 225.00,328.47 225.50,328.69 226.00,328.74 226.50,328.59 227.00,328.45 227.50,328.50 228.00,328.50 228.50,328.66 229.00,328.41 229.50,328.47 230.00,328.57 230.50,328.47 231.00,328.43 231.50,328.71 232.00,328.75 232.50,328.54 233.00,328.51 233.50,328.36 234.00,328.43 234.50,328.34 235.00,328.60 235.50,328.60 236.00,328.31 236.50,328.81 237.00,328.45 237.50,328.76 238.00,328.76 238.50,328.84 239.00,328.39 239.50,328.52 240.00,328.81 240.50,328.27 241.00,328.30 241.50,328.61 242.00,328.57 242.50,328.83 243.00,328.74 243.50,328.60 244.00,328.88 244.50,328.59 245.00,328.59 245.50,328.70 246.00,328.52 246.50,328.50 247.00,328.65 247.50,328.50 248.00,328.86 248.50,328.70 249.00,328.61 249.50,328.36 250.00,328.52 250.50,328.54 251.00,328.64 251.50,328.65 252.00,328.83 252.50,328.89 253.00,328.60 253.50,328.58 254.00,328.69 254.50,328.91 255.00,328.52 255.50,328.64 256.00,328.81 256.50,328.43 257.00,328.52 257.50,328.91 258.00,328.82 258.50,328.64 259.00,328.40 259.50,328.87 260.00,328.75 260.50,328.83 261.00,328.93 261.50,328.87 262.00,328.59 262.50,328.44 263.00,328.52 263.50,328.65 264.00,328.65 264.50,328.46 265.00,328.46 265.50,328.73 266.00,328.72 266.50,328.57 267.00,328.96 267.50,328.74 268.00,328.39 268.50,328.61 269.00,328.84 269.50,328.55 270.00,328.78 270.50,328.37 271.00,328.56 271.50,328.88 272.00,328.73 272.50,328.78 273.00,328.50 273.50,328.68 274.00,328.72 274.50,328.54 275.00,328.78 275.50,328.71 276.00,328.99 276.50,328.74 277.00,328.64 277.50,328.47 278.00,328.49 278.50,328.85 279.00,328.46 279.50,328.46 280.00,328.51 280.50,328.72 281.00,328.90 281.50,328.78 282.00,328.90 282.50,328.45 283.00,328.42 283.50,328.88 284.00,328.61 284.50,328.85 285.00,328.63 285.50,328.53 286.00,328.59 286.50,328.49 287.00,328.97 287.50,328.78 288.00,328.64 288.50,328.70 289.00,328.67 289.50,328.47 290.00,328.97 290.50,328.79 291.00,329.02 291.50,328.71 292.00,328.82 292.50,328.60 293.00,328.48 293.50,329.01 294.00,328.97 294.50,328.64 295.00,329.00 295.50,328.95 296.00,328.64 296.50,328.82 297.00,329.04 297.50,328.76 298.00,329.04 298.50,328.61 299.00,328.70 299.50,328.90 300.00,328.61 300.50,328.66 301.00,329.00 301.50,328.77 302.00,328.96 302.50,328.63 303.00,328.59 303.50,328.70 304.00,328.60 304.50,329.07 305.00,328.67 305.50,328.83 306.00,328.56 306.50,328.82 307.00,328.73 307.50,328.74" fill="none" stroke="#ff0000" stroke-width="1.3"/>
<polyline points="187.50,325.24 187.90,325.51 188.30,326.18 188.70,326.13 189.10,326.31 189.50,326.51 189.90,326.81 190.30,326.85 190.70,326.73 191.10,327.11 191.50,326.92 191.90,326.81 192.30,327.15 192.70,326.78 193.10,326.89 193.50,327.24 193.90,326.82 194.30,327.01 194.70,327.25 195.10,327.23 195.50,326.85 195.90,326.97 196.30,327.20 196.70,326.99 197.10,327.35 197.50,326.90 197.90,327.35 198.30,327.09 198.70,326.92 199.10,327.06 199.50,326.87 199.90,327.22 200.30,326.96 200.70,327.35 201.10,327.16 201.50,327.04 201.90,326.97 202.30,327.19 202.70,326.95 203.10,327.35 203.50,326.91 203.90,327.15 204.30,327.17 204.70,327.01 205.10,327.31 205.50,327.09 205.90,327.25 206.30,327.20 206.70,327.05 207.10,327.10 207.50,326.93 207.90,326.99 208.30,327.39 208.70,327.08 209.10,327.29 209.50,326.96 209.90,327.24 210.30,327.12 210.70,327.21 211.10,327.09 211.50,326.95 211.90,327.11 212.30,327.06 212.70,327.00 213.10,327.36 213.50,327.10 213.90,327.18 214.30,327.49 214.70,327.41 215.10,327.48 215.50,327.47 215.90,327.04 216.30,327.13 216.70,326.98 217.10,327.38 217.50,327.37 217.90,327.19 218.30,327.23 218.70,327.38 219.10,327.41 219.50,327.14 219.90,327.51 220.30,327.21 220.70,327.38 221.10,327.12 221.50,327.08 221.90,327.57 222.30,327.46 222.70,327.45 223.10,327.06 223.50,327.06 223.90,327.14 224.30,327.16 224.70,327.23 225.10,327.28 225.50,327.08 225.90,327.25 226.30,327.45 226.70,327.17 227.10,327.57 227.50,327.42 227.90,327.51 228.30,327.24 228.70,327.35 229.10,327.50 229.50,327.30 229.90,327.10 230.30,327.60 230.70,327.57 231.10,327.28 231.50,327.14 231.90,327.63 232.30,327.49 232.70,327.16 233.10,327.28 233.50,327.20 233.90,327.61 234.30,327.27 234.70,327.70 235.10,327.60 235.50,327.21 235.90,327.58 236.30,327.40 236.70,327.62 237.10,327.67 237.50,327.34 237.90,327.23 238.30,327.75 238.70,327.44 239.10,327.75 239.50,327.61 239.90,327.64 240.30,327.70 240.70,327.58 241.10,327.48 241.50,327.25 241.90,327.64 242.30,327.48 242.70,327.53 243.10,327.79 243.50,327.31 243.90,327.70 244.30,327.27 244.70,327.67 245.10,327.73 245.50,327.41 245.90,327.59 246.30,327.84 246.70,327.65 247.10,327.60 247.50,327.42 247.90,327.31 248.30,327.50 248.70,327.53 249.10,327.41 249.50,327.48 249.90,327.38 250.30,327.73 250.70,327.71 251.10,327.45 251.50,327.46 251.90,327.62 252.30,327.58 252.70,327.88 253.10,327.53 253.50,327.50 253.90,327.86 254.30,327.42 254.70,327.67 255.10,327.54 255.50,327.83 255.90,327.67 256.30,327.80 256.70,327.45 257.10,327.75 257.50,327.71 257.90,327.63 258.30,327.82 258.70,327.86 259.10,327.43 259.50,327.54 259.90,327.59 260.30,327.50 260.70,327.41 261.10,327.55 261.50,327.50 261.90,327.80 262.30,327.65 262.70,327.46 263.10,327.59 263.50,327.68 263.90,327.61 264.30,327.50 264.70,327.45 265.10,327.41 265.50,328.00 265.90,327.86 266.30,327.46 266.70,327.85 267.10,328.01 267.50,327.76 267.90,327.49 268.30,327.72 268.70,327.69 269.10,327.55 269.50,327.76 269.90,327.44 270.30,327.99 270.70,327.83 271.10,327.82 271.50,328.01 271.90,327.84 272.30,327.61 272.70,327.61 273.10,327.54 273.50,327.48 273.90,327.93 274.30,327.97 274.70,327.65 275.10,327.59 275.50,327.86 275.90,327.99 276.30,328.04 276.70,327.59 277.10,327.96 277.50,327.99 277.90,327.94 278.30,327.69 278.70,327.61 279.10,328.00 279.50,327.70 279.90,327.73 280.30,327.84 280.70,327.74 281.10,328.02 281.50,327.66 281.90,327.55 282.30,327.86 282.70,327.90 283.10,328.02 283.50,327.96 283.90,328.08 284.30,328.11 284.70,327.84 285.10,327.84 285.50,327.64 285.90,327.73 286.30,327.90 286.70,327.60 287.10,327.97 287.50,327.66 287.90,327.83 288.30,328.15 288.70,327.62 289.10,327.60 289.50,327.84 289.90,327.69 290.30,328.01 290.70,327.58 291.10,328.09 291.50,328.10 291.90,328.06 292.30,327.85 292.70,327.77 293.10,328.00 293.50,327.91 293.90,327.86 294.30,327.81 294.70,327.87 295.10,328.01 295.50,328.11 295.90,328.16 296.30,327.72 296.70,327.80 297.10,327.89 297.50,327.97 297.90,327.84 298.30,327.75 298.70,327.69 299.10,327.84 299.50,327.92 299.90,328.23 300.30,328.20 300.70,328.17 301.10,328.24 301.50,328.24 301.90,328.03 302.30,328.15 302.70,327.70 303.10,328.08 303.50,328.04 303.90,327.85 304.30,328.02 304.70,328.25 305.10,327.97 305.50,328.07 305.90,327.87 306.30,327.90 306.70,328.23 307.10,327.71 307.50,327.81" fill="none" stroke="#000" stroke-width="1.1"/>
<polyline points="187.50,330.11 187.90,330.37 188.30,330.55 188.70,331.30 189.10,331.52 189.50,332.05 189.90,332.35 190.30,332.52 190.70,332.55 191.10,332.45 191.50,332.29 191.90,332.33 192.30,332.76 192.70,332.56 193.10,332.30 193.50,332.76 193.90,332.40 194.30,332.31 194.70,332.57 195.10,332.41 195.50,332.56 195.90,332.60 196.30,332.41 196.70,332.62 197.10,332.35 197.50,332.60 197.90,332.65 198.30,332.34 198.70,332.55 199.10,332.35 199.50,332.57 199.90,332.83 200.30,332.65 200.70,332.75 201.10,332.78 201.50,332.40 201.90,332.93 202.30,332.78 202.70,332.41 203.10,332.85 203.50,332.59 203.90,332.46 204.30,332.94 204.70,332.71 205.10,332.84 205.50,332.46 205.90,332.85 206.30,332.42 206.70,332.54 207.10,332.62 207.50,332.41 207.90,332.77 208.30,332.54 208.70,332.60 209.10,332.85 209.50,332.68 209.90,332.97 210.30,332.81 210.70,332.96 211.10,332.78 211.50,333.00 211.90,332.98 212.30,332.56 212.70,332.91 213.10,332.67 213.50,332.93 213.90,332.89 214.30,332.98 214.70,332.56 215.10,332.72 215.50,332.94 215.90,333.07 216.30,332.94 216.70,332.54 217.10,332.88 217.50,332.58 217.90,332.85 218.30,333.01 218.70,332.60 219.10,333.09 219.50,332.95 219.90,332.70 220.30,332.67 220.70,332.83 221.10,333.07 221.50,332.92 221.90,332.64 222.30,332.59 222.70,332.65 223.10,333.07 223.50,332.70 223.90,332.93 224.30,332.77 224.70,333.02 225.10,332.84 225.50,332.70 225.90,333.14 226.30,332.95 226.70,333.04 227.10,333.12 227.50,333.21 227.90,332.65 228.30,332.85 228.70,332.74 229.10,332.96 229.50,333.18 229.90,333.15 230.30,332.69 230.70,332.78 231.10,333.17 231.50,333.09 231.90,332.92 232.30,332.98 232.70,332.79 233.10,333.21 233.50,332.94 233.90,333.24 234.30,333.08 234.70,332.77 235.10,332.92 235.50,332.86 235.90,333.27 236.30,333.09 236.70,332.77 237.10,332.85 237.50,332.97 237.90,333.04 238.30,333.11 238.70,333.00 239.10,332.99 239.50,332.78 239.90,333.13 240.30,332.99 240.70,332.80 241.10,333.07 241.50,333.39 241.90,332.83 242.30,332.90 242.70,333.22 243.10,332.98 243.50,332.99 243.90,333.13 244.30,332.99 244.70,333.18 245.10,333.16 245.50,333.42 245.90,333.45 246.30,332.88 246.70,333.20 247.10,333.33 247.50,333.39 247.90,333.34 248.30,333.26 248.70,333.27 249.10,333.11 249.50,333.06 249.90,333.38 250.30,333.43 250.70,333.47 251.10,333.31 251.50,333.09 251.90,333.37 252.30,333.36 252.70,333.22 253.10,333.30 253.50,333.13 253.90,333.25 254.30,333.17 254.70,332.96 255.10,333.13 255.50,333.12 255.90,333.52 256.30,333.22 256.70,333.16 257.10,333.08 257.50,333.08 257.90,333.15 258.30,333.02 258.70,332.95 259.10,333.47 259.50,333.22 259.90,333.22 260.30,333.29 260.70,333.14 261.10,333.06 261.50,333.00 261.90,333.14 262.30,333.15 262.70,333.40 263.10,333.30 263.50,333.53 263.90,333.18 264.30,333.53 264.70,333.33 265.10,333.03 265.50,333.09 265.90,333.33 266.30,333.58 266.70,333.20 267.10,333.45 267.50,333.25 267.90,333.51 268.30,333.04 268.70,333.29 269.10,333.54 269.50,333.17 269.90,333.16 270.30,333.02 270.70,333.11 271.10,333.17 271.50,333.43 271.90,333.15 272.30,333.26 272.70,333.14 273.10,333.38 273.50,333.54 273.90,333.41 274.30,333.14 274.70,333.47 275.10,333.61 275.50,333.39 275.90,333.08 276.30,333.52 276.70,333.56 277.10,333.25 277.50,333.13 277.90,333.16 278.30,333.37 278.70,333.58 279.10,333.44 279.50,333.61 279.90,333.18 280.30,333.25 280.70,333.51 281.10,333.45 281.50,333.31 281.90,333.47 282.30,333.27 282.70,333.11 283.10,333.32 283.50,333.10 283.90,333.45 284.30,333.28 284.70,333.38 285.10,333.44 285.50,333.24 285.90,333.37 286.30,333.10 286.70,333.65 287.10,333.43 287.50,333.69 287.90,333.13 288.30,333.47 288.70,333.54 289.10,333.30 289.50,333.16 289.90,333.20 290.30,333.20 290.70,333.57 291.10,333.17 291.50,333.60 291.90,333.37 292.30,333.44 292.70,333.48 293.10,333.46 293.50,333.52 293.90,333.49 294.30,333.33 294.70,333.58 295.10,333.29 295.50,333.56 295.90,333.60 296.30,333.61 296.70,333.33 297.10,333.61 297.50,333.73 297.90,333.42 298.30,333.32 298.70,333.47 299.10,333.72 299.50,333.24 299.90,333.17 300.30,333.45 300.70,333.56 301.10,333.63 301.50,333.39 301.90,333.76 302.30,333.31 302.70,333.63 303.10,333.23 303.50,333.20 303.90,333.26 304.30,333.22 304.70,333.49 305.10,333.52 305.50,333.30 305.90,333.76 306.30,333.41 306.70,333.29 307.10,333.30 307.50,333.64" fill="none" stroke="#000" stroke-width="1.1"/>
<polyline points="308.60,350.17 309.10,345.36 309.60,339.16 310.10,338.73 310.60,337.78 311.10,337.49 311.60,337.27 312.10,337.30 312.60,337.16 313.10,337.31 313.60,337.15 314.10,337.07 314.60,337.28 315.10,336.93 315.60,337.16 316.10,336.86 316.60,337.07 317.10,336.95 317.60,337.11 318.10,336.76 318.60,336.93 319.10,336.85 319.60,337.02 320.10,337.01 320.60,336.86" fill="none" stroke="#000" stroke-width="1.1"/>
<polyline points="308.60,349.92 309.10,345.43 309.60,339.28 310.10,338.60 310.60,337.81 311.10,337.21 311.60,337.35 312.10,337.29 312.60,337.16 313.10,337.34 313.60,337.08 314.10,337.16 314.60,337.01 315.10,337.20 315.60,337.17 316.10,336.97 316.60,337.09 317.10,337.08 317.60,336.89 318.10,336.88 318.60,336.90 319.10,337.00 319.60,336.76 320.10,336.89 320.60,336.83" fill="none" stroke="#ff0000" stroke-width="1.0" opacity="0.8"/>
<line x1="65.50" y1="337.30" x2="65.50" y2="434.20" stroke="#ff0000" stroke-width="1.2"/>
<line x1="186.70" y1="310.10" x2="186.70" y2="434.20" stroke="#ff0000" stroke-width="1.2"/>
<line x1="308.00" y1="328.00" x2="308.00" y2="434.20" stroke="#ff0000" stroke-width="1.2"/>
<path d="M201.1,392.0 V432.8 H227.1" fill="none" stroke="#000" stroke-width="3.2" stroke-linecap="butt" stroke-linejoin="miter"/>
<text x="208.2" y="415.7" font-size="19.3">2 µA</text>
<text x="206.7" y="454.4" font-size="19.2">0.05 s</text>
<text x="107.8" y="342.8" font-size="19.3">ND 96</text>
<text x="81.6" y="367.3" font-size="19.4" fill="#ff0000">100 µM BD</text>
<text x="105.6" y="412.3" font-size="19.3">96 K<tspan font-size="12.5" dy="-11.5">+</tspan></text>
<text x="1.6" y="481.6" font-size="21.8" font-weight="bold">D</text>
<text x="159" y="484.6" font-size="19.5" font-weight="bold">GIRK1/4</text>
<text x="0" y="0" font-size="18.8" transform="translate(38.5,519.4) scale(0.98,1.1)">0</text>
<polygon points="50.9,506.3 62.2,513.7 50.9,521.1" fill="#000"/>
<polyline points="65.40,514.80 67.80,514.60 68.20,513.70 68.80,513.90" fill="none" stroke="#ff0000" stroke-width="1.2"/>
<polyline points="69.90,514.80 69.80,520.78 70.30,520.84 70.80,520.99 71.30,520.65 71.80,520.99 72.30,520.72 72.80,520.93 73.30,520.97 73.80,520.63 74.30,520.97 74.80,521.03 75.30,520.68 75.80,520.54 76.30,520.58 76.80,521.01 77.30,520.53 77.80,520.98 78.30,520.60 78.80,520.89 79.30,520.57 79.80,520.60 80.30,520.86 80.80,520.56 81.30,520.68 81.80,520.97 82.30,520.87 82.80,520.95 83.30,520.99 83.80,520.52 84.30,520.62 84.80,520.90 85.30,520.84 85.80,520.52 86.30,520.75 86.80,520.61 87.30,520.71 87.80,520.54 88.30,520.50 88.80,520.98 89.30,520.64 89.80,520.92 90.30,520.54 90.80,520.72 91.30,520.55 91.80,520.69 92.30,520.56 92.80,520.82 93.30,520.55 93.80,520.84 94.30,520.72 94.80,520.52 95.30,520.64 95.80,520.71 96.30,520.92 96.80,520.64 97.30,520.57 97.80,520.94 98.30,520.90 98.80,520.82 99.30,520.59 99.80,520.54 100.30,520.58 100.80,520.48 101.30,520.47 101.80,520.70 102.30,520.65 102.80,520.72 103.30,520.62 103.80,520.44 104.30,520.78 104.80,520.76 105.30,520.70 105.80,520.70 106.30,520.77 106.80,520.92 107.30,520.86 107.80,520.78 108.30,520.62 108.80,520.58 109.30,520.63 109.80,520.90 110.30,520.61 110.80,520.61 111.30,520.62 111.80,520.48 112.30,520.91 112.80,520.41 113.30,520.71 113.80,520.87 114.30,520.53 114.80,520.71 115.30,520.59 115.80,520.52 116.30,520.49 116.80,520.45 117.30,520.81 117.80,520.78 118.30,520.84 118.80,520.41 119.30,520.73 119.80,520.55 120.30,520.71 120.80,520.66 121.30,520.54 121.80,520.86 122.30,520.38 122.80,520.75 123.30,520.80 123.80,520.63 124.30,520.67 124.80,520.86 125.30,520.48 125.80,520.68 126.30,520.73 126.80,520.55 127.30,520.72 127.80,520.55 128.30,520.62 128.80,520.66 129.30,520.69 129.80,520.51 130.30,520.66 130.80,520.62 131.30,520.46 131.80,520.66 132.30,520.48 132.80,520.80 133.30,520.59 133.80,520.71 134.30,520.61 134.80,520.59 135.30,520.46 135.80,520.42 136.30,520.81 136.80,520.61 137.30,520.61 137.80,520.61 138.30,520.76 138.80,520.47 139.30,520.44 139.80,520.76 140.30,520.58 140.80,520.67 141.30,520.76 141.80,520.80 142.30,520.78 142.80,520.37 143.30,520.54 143.80,520.77 144.30,520.76 144.80,520.41 145.30,520.43 145.80,520.48 146.30,520.40 146.80,520.53 147.30,520.75 147.80,520.61 148.30,520.58 148.80,520.39 149.30,520.55 149.80,520.85 150.30,520.70 150.80,520.57 151.30,520.59 151.80,520.75 152.30,520.73 152.80,520.42 153.30,520.69 153.80,520.53 154.30,520.61 154.80,520.47 155.30,520.54 155.80,520.52 156.30,520.54 156.80,520.36 157.30,520.45 157.80,520.64 158.30,520.38 158.80,520.44 159.30,520.71 159.80,520.49 160.30,520.51 160.80,520.47 161.30,520.77 161.80,520.40 162.30,520.67 162.80,520.78 163.30,520.45 163.80,520.56 164.30,520.75 164.80,520.66 165.30,520.54 165.80,520.37 166.30,520.57 166.80,520.53 167.30,520.71 167.80,520.50 168.30,520.55 168.80,520.67 169.30,520.76 169.80,520.53 170.30,520.54 170.80,520.64 171.30,520.81 171.80,520.45 172.30,520.84 172.80,520.71 173.30,520.54 173.80,520.68 174.30,520.51 174.80,520.39 175.30,520.73 175.80,520.54 176.30,520.61 176.80,520.60 177.30,520.80 177.80,520.73 178.30,520.36 178.80,520.65 179.30,520.58 179.80,520.58 180.30,520.77 180.80,520.56 181.30,520.59 181.80,520.80 182.30,520.57 182.80,520.60 183.30,520.61 183.80,520.76 184.30,520.69 184.80,520.72 185.30,520.55 185.80,520.37 186.30,520.69 186.80,520.63 187.30,520.73 187.80,520.73 188.30,520.41 188.80,520.46 189.30,520.39 189.80,520.76 190.30,520.40" fill="none" stroke="#000" stroke-width="1.1"/>
<polyline points="69.90,574.00 69.80,579.79 70.30,581.15 70.80,582.08 71.30,582.85 71.80,584.18 72.30,585.01 72.80,585.56 73.30,586.01 73.80,587.00 74.30,587.53 74.80,588.28 75.30,588.97 75.80,589.26 76.30,589.66 76.80,589.67 77.30,590.14 77.80,590.61 78.30,590.73 78.80,591.59 79.30,591.46 79.80,591.58 80.30,591.73 80.80,591.83 81.30,592.25 81.80,592.23 82.30,592.33 82.80,592.41 83.30,592.35 83.80,592.60 84.30,593.01 84.80,593.10 85.30,593.17 85.80,592.87 86.30,592.83 86.80,592.75 87.30,592.98 87.80,592.89 88.30,592.93 88.80,592.93 89.30,592.97 89.80,592.86 90.30,593.07 90.80,592.76 91.30,593.11 91.80,592.92 92.30,592.66 92.80,592.78 93.30,592.88 93.80,592.81 94.30,592.88 94.80,592.75 95.30,592.72 95.80,592.98 96.30,592.71 96.80,592.92 97.30,592.95 97.80,592.84 98.30,592.76 98.80,593.00 99.30,592.74 99.80,592.95 100.30,592.53 100.80,592.71 101.30,592.81 101.80,592.51 102.30,592.90 102.80,592.50 103.30,592.76 103.80,592.54 104.30,592.90 104.80,592.71 105.30,592.83 105.80,592.67 106.30,592.75 106.80,592.74 107.30,592.54 107.80,592.49 108.30,592.80 108.80,592.44 109.30,592.82 109.80,592.46 110.30,592.39 110.80,592.38 111.30,592.72 111.80,592.79 112.30,592.51 112.80,592.62 113.30,592.41 113.80,592.73 114.30,592.61 114.80,592.33 115.30,592.27 115.80,592.58 116.30,592.24 116.80,592.63 117.30,592.35 117.80,592.31 118.30,592.48 118.80,592.33 119.30,592.44 119.80,592.23 120.30,592.60 120.80,592.30 121.30,592.54 121.80,592.19 122.30,592.50 122.80,592.58 123.30,592.28 123.80,592.09 124.30,592.25 124.80,592.37 125.30,592.16 125.80,592.31 126.30,592.07 126.80,592.25 127.30,592.37 127.80,592.21 128.30,592.32 128.80,592.03 129.30,592.38 129.80,592.02 130.30,592.41 130.80,592.43 131.30,592.39 131.80,592.18 132.30,592.05 132.80,592.07 133.30,592.26 133.80,592.12 134.30,592.33 134.80,591.90 135.30,592.09 135.80,592.27 136.30,592.12 136.80,592.08 137.30,591.85 137.80,591.86 138.30,591.92 138.80,592.22 139.30,592.19 139.80,591.87 140.30,592.21 140.80,591.75 141.30,592.02 141.80,592.20 142.30,591.88 142.80,592.17 143.30,592.01 143.80,591.70 144.30,591.83 144.80,591.88 145.30,591.77 145.80,592.01 146.30,591.71 146.80,592.01 147.30,591.75 147.80,591.63 148.30,591.86 148.80,591.62 149.30,591.84 149.80,591.95 150.30,591.84 150.80,591.76 151.30,591.54 151.80,591.77 152.30,591.55 152.80,591.82 153.30,591.55 153.80,591.76 154.30,591.64 154.80,591.64 155.30,591.77 155.80,591.51 156.30,591.51 156.80,591.88 157.30,591.57 157.80,591.81 158.30,591.82 158.80,591.61 159.30,591.44 159.80,591.40 160.30,591.78 160.80,591.39 161.30,591.57 161.80,591.58 162.30,591.36 162.80,591.53 163.30,591.36 163.80,591.54 164.30,591.51 164.80,591.43 165.30,591.34 165.80,591.43 166.30,591.32 166.80,591.27 167.30,591.32 167.80,591.63 168.30,591.43 168.80,591.62 169.30,591.17 169.80,591.62 170.30,591.38 170.80,591.53 171.30,591.40 171.80,591.45 172.30,591.21 172.80,591.46 173.30,591.16 173.80,591.20 174.30,591.07 174.80,591.25 175.30,591.30 175.80,591.17 176.30,591.46 176.80,591.05 177.30,591.29 177.80,591.11 178.30,591.28 178.80,591.36 179.30,591.31 179.80,590.98 180.30,591.06 180.80,591.23 181.30,591.41 181.80,590.93 182.30,591.21 182.80,591.23 183.30,591.28 183.80,591.04 184.30,591.26 184.80,591.08 185.30,591.30 185.80,590.83 186.30,591.29 186.80,591.01 187.30,591.00 187.80,590.83 188.30,590.90 188.80,591.13 189.30,591.10 189.80,590.83 190.30,590.92" fill="none" stroke="#000" stroke-width="1.1"/>
<line x1="69.90" y1="520.30" x2="69.90" y2="580.00" stroke="#000" stroke-width="1.0"/>
<polyline points="69.80,541.72 70.30,542.45 70.80,543.17 71.30,543.93 71.80,544.96 72.30,545.40 72.80,545.55 73.30,545.64 73.80,545.90 74.30,546.29 74.80,546.60 75.30,546.78 75.80,546.97 76.30,546.91 76.80,547.22 77.30,547.43 77.80,547.50 78.30,547.26 78.80,547.67 79.30,547.58 79.80,547.59 80.30,548.09 80.80,548.05 81.30,548.18 81.80,547.98 82.30,548.42 82.80,548.58 83.30,548.66 83.80,548.68 84.30,548.83 84.80,548.91 85.30,548.87 85.80,548.84 86.30,549.09 86.80,549.12 87.30,549.21 87.80,548.97 88.30,549.35 88.80,549.18 89.30,549.44 89.80,549.07 90.30,549.54 90.80,549.50 91.30,549.28 91.80,549.62 92.30,549.37 92.80,549.40 93.30,549.58 93.80,549.51 94.30,549.69 94.80,549.94 95.30,549.88 95.80,549.94 96.30,549.83 96.80,550.07 97.30,550.13 97.80,550.12 98.30,550.30 98.80,550.29 99.30,550.13 99.80,550.01 100.30,550.35 100.80,550.48 101.30,550.28 101.80,550.46 102.30,550.63 102.80,550.66 103.30,550.31 103.80,550.60 104.30,550.41 104.80,550.51 105.30,550.90 105.80,550.76 106.30,550.90 106.80,550.87 107.30,550.86 107.80,550.85 108.30,550.96 108.80,551.26 109.30,551.19 109.80,551.08 110.30,551.01 110.80,551.12 111.30,551.36 111.80,551.25 112.30,551.38 112.80,551.48 113.30,551.16 113.80,551.46 114.30,551.16 114.80,551.58 115.30,551.28 115.80,551.35 116.30,551.71 116.80,551.44 117.30,551.39 117.80,551.75 118.30,551.63 118.80,551.79 119.30,551.57 119.80,551.64 120.30,551.89 120.80,551.69 121.30,551.95 121.80,551.58 122.30,551.92 122.80,551.61 123.30,551.81 123.80,551.57 124.30,551.68 124.80,552.09 125.30,551.87 125.80,552.07 126.30,551.81 126.80,551.88 127.30,551.78 127.80,552.03 128.30,552.20 128.80,552.05 129.30,552.01 129.80,552.31 130.30,552.31 130.80,552.22 131.30,551.95 131.80,552.24 132.30,552.18 132.80,552.45 133.30,552.18 133.80,552.35 134.30,552.36 134.80,552.25 135.30,552.35 135.80,552.45 136.30,552.59 136.80,552.41 137.30,552.36 137.80,552.69 138.30,552.25 138.80,552.66 139.30,552.61 139.80,552.57 140.30,552.54 140.80,552.71 141.30,552.80 141.80,552.75 142.30,552.78 142.80,552.44 143.30,552.61 143.80,552.54 144.30,552.97 144.80,552.96 145.30,552.61 145.80,552.85 146.30,552.87 146.80,552.63 147.30,552.82 147.80,553.02 148.30,552.99 148.80,552.84 149.30,553.10 149.80,552.89 150.30,553.03 150.80,552.98 151.30,553.28 151.80,553.12 152.30,553.22 152.80,553.17 153.30,553.03 153.80,553.34 154.30,553.22 154.80,553.23 155.30,553.04 155.80,552.99 156.30,553.21 156.80,553.35 157.30,553.35 157.80,553.14 158.30,553.05 158.80,553.25 159.30,553.45 159.80,553.10 160.30,553.41 160.80,553.14 161.30,553.22 161.80,553.10 162.30,553.24 162.80,553.30 163.30,553.60 163.80,553.61 164.30,553.24 164.80,553.32 165.30,553.65 165.80,553.29 166.30,553.36 166.80,553.44 167.30,553.28 167.80,553.37 168.30,553.46 168.80,553.46 169.30,553.77 169.80,553.43 170.30,553.42 170.80,553.78 171.30,553.57 171.80,553.77 172.30,553.69 172.80,553.77 173.30,553.55 173.80,553.49 174.30,553.80 174.80,553.67 175.30,553.73 175.80,553.80 176.30,553.86 176.80,553.63 177.30,553.69 177.80,553.98 178.30,553.80 178.80,553.69 179.30,553.88 179.80,553.71 180.30,553.98 180.80,553.63 181.30,554.03 181.80,553.92 182.30,553.82 182.80,554.13 183.30,553.81 183.80,553.81 184.30,553.74 184.80,553.99 185.30,554.11 185.80,554.08 186.30,553.96 186.80,554.18 187.30,553.84 187.80,553.95 188.30,554.14 188.80,554.31 189.30,554.16 189.80,554.20 190.30,554.24" fill="none" stroke="#ff0000" stroke-width="1.1"/>
<polyline points="191.70,507.44 192.20,507.89 192.70,508.09 193.20,508.17 193.70,508.51 194.20,509.08 194.70,509.12 195.20,509.21 195.70,509.62 196.20,509.42 196.70,509.42 197.20,509.51 197.70,509.65 198.20,509.19 198.70,509.31 199.20,509.15 199.70,509.36 200.20,509.41 200.70,509.62 201.20,509.51 201.70,509.46 202.20,509.35 202.70,509.46 203.20,509.28 203.70,509.62 204.20,509.59 204.70,509.62 205.20,509.21 205.70,509.52 206.20,509.57 206.70,509.42 207.20,509.66 207.70,509.66 208.20,509.57 208.70,509.62 209.20,509.51 209.70,509.65 210.20,509.20 210.70,509.55 211.20,509.55 211.70,509.50 212.20,509.29 212.70,509.17 213.20,509.49 213.70,509.63 214.20,509.30 214.70,509.26 215.20,509.27 215.70,509.19 216.20,509.54 216.70,509.72 217.20,509.62 217.70,509.35 218.20,509.56 218.70,509.18 219.20,509.64 219.70,509.34 220.20,509.15 220.70,509.52 221.20,509.23 221.70,509.31 222.20,509.18 222.70,509.41 223.20,509.48 223.70,509.63 224.20,509.17 224.70,509.65 225.20,509.22 225.70,509.29 226.20,509.53 226.70,509.36 227.20,509.35 227.70,509.50 228.20,509.29 228.70,509.63 229.20,509.28 229.70,509.66 230.20,509.65 230.70,509.48 231.20,509.18 231.70,509.63 232.20,509.18 232.70,509.47 233.20,509.42 233.70,509.20 234.20,509.55 234.70,509.60 235.20,509.52 235.70,509.41 236.20,509.48 236.70,509.52 237.20,509.31 237.70,509.69 238.20,509.77 238.70,509.66 239.20,509.75 239.70,509.37 240.20,509.77 240.70,509.22 241.20,509.47 241.70,509.26 242.20,509.45 242.70,509.59 243.20,509.61 243.70,509.46 244.20,509.39 244.70,509.30 245.20,509.43 245.70,509.36 246.20,509.30 246.70,509.63 247.20,509.50 247.70,509.45 248.20,509.31 248.70,509.61 249.20,509.31 249.70,509.35 250.20,509.53 250.70,509.62 251.20,509.78 251.70,509.65 252.20,509.77 252.70,509.75 253.20,509.63 253.70,509.63 254.20,509.24 254.70,509.33 255.20,509.21 255.70,509.72 256.20,509.64 256.70,509.58 257.20,509.37 257.70,509.42 258.20,509.31 258.70,509.59 259.20,509.81 259.70,509.39 260.20,509.24 260.70,509.32 261.20,509.43 261.70,509.75 262.20,509.70 262.70,509.49 263.20,509.28 263.70,509.28 264.20,509.31 264.70,509.69 265.20,509.50 265.70,509.82 266.20,509.77 266.70,509.70 267.20,509.51 267.70,509.72 268.20,509.30 268.70,509.29 269.20,509.57 269.70,509.53 270.20,509.35 270.70,509.38 271.20,509.24 271.70,509.78 272.20,509.66 272.70,509.80 273.20,509.82 273.70,509.50 274.20,509.68 274.70,509.47 275.20,509.72 275.70,509.74 276.20,509.32 276.70,509.25 277.20,509.37 277.70,509.59 278.20,509.47 278.70,509.25 279.20,509.74 279.70,509.72 280.20,509.52 280.70,509.27 281.20,509.78 281.70,509.57 282.20,509.29 282.70,509.44 283.20,509.63 283.70,509.78 284.20,509.54 284.70,509.64 285.20,509.38 285.70,509.40 286.20,509.80 286.70,509.49 287.20,509.32 287.70,509.61 288.20,509.34 288.70,509.38 289.20,509.54 289.70,509.61 290.20,509.65 290.70,509.69 291.20,509.53 291.70,509.31 292.20,509.70 292.70,509.30 293.20,509.55 293.70,509.51 294.20,509.67 294.70,509.70 295.20,509.42 295.70,509.66 296.20,509.69 296.70,509.56 297.20,509.36 297.70,509.82 298.20,509.64 298.70,509.32 299.20,509.42 299.70,509.87 300.20,509.42 300.70,509.52 301.20,509.76 301.70,509.78 302.20,509.66 302.70,509.73 303.20,509.31 303.70,509.34 304.20,509.87 304.70,509.77 305.20,509.31 305.70,509.32 306.20,509.44 306.70,509.85 307.20,509.42 307.70,509.70 308.20,509.85 308.70,509.68 309.20,509.85 309.70,509.45 310.20,509.39 310.70,509.31 311.20,509.75" fill="none" stroke="#ff0000" stroke-width="1.3"/>
<polyline points="191.70,505.26 192.10,505.85 192.50,505.96 192.90,505.91 193.30,506.55 193.70,506.43 194.10,506.91 194.50,506.93 194.90,507.61 195.30,507.73 195.70,507.75 196.10,507.20 196.50,507.71 196.90,507.54 197.30,507.70 197.70,507.51 198.10,507.58 198.50,507.57 198.90,507.69 199.30,507.26 199.70,507.24 200.10,507.54 200.50,507.39 200.90,507.45 201.30,507.22 201.70,507.66 202.10,507.23 202.50,507.72 202.90,507.71 203.30,507.50 203.70,507.30 204.10,507.61 204.50,507.35 204.90,507.48 205.30,507.29 205.70,507.81 206.10,507.56 206.50,507.44 206.90,507.29 207.30,507.67 207.70,507.74 208.10,507.74 208.50,507.30 208.90,507.46 209.30,507.42 209.70,507.70 210.10,507.33 210.50,507.60 210.90,507.83 211.30,507.70 211.70,507.25 212.10,507.29 212.50,507.31 212.90,507.66 213.30,507.61 213.70,507.56 214.10,507.52 214.50,507.49 214.90,507.62 215.30,507.64 215.70,507.80 216.10,507.69 216.50,507.73 216.90,507.80 217.30,507.76 217.70,507.69 218.10,507.28 218.50,507.67 218.90,507.77 219.30,507.52 219.70,507.79 220.10,507.37 220.50,507.83 220.90,507.53 221.30,507.69 221.70,507.42 222.10,507.45 222.50,507.48 222.90,507.47 223.30,507.33 223.70,507.54 224.10,507.86 224.50,507.67 224.90,507.84 225.30,507.74 225.70,507.78 226.10,507.88 226.50,507.73 226.90,507.45 227.30,507.43 227.70,507.53 228.10,507.30 228.50,507.42 228.90,507.82 229.30,507.84 229.70,507.49 230.10,507.75 230.50,507.76 230.90,507.83 231.30,507.77 231.70,507.61 232.10,507.36 232.50,507.79 232.90,507.49 233.30,507.67 233.70,507.52 234.10,507.62 234.50,507.88 234.90,507.40 235.30,507.62 235.70,507.69 236.10,507.63 236.50,507.87 236.90,507.55 237.30,507.86 237.70,507.72 238.10,507.89 238.50,507.37 238.90,507.44 239.30,507.49 239.70,507.86 240.10,507.32 240.50,507.47 240.90,507.75 241.30,507.91 241.70,507.43 242.10,507.58 242.50,507.73 242.90,507.74 243.30,507.77 243.70,507.78 244.10,507.48 244.50,507.48 244.90,507.35 245.30,507.74 245.70,507.46 246.10,507.49 246.50,507.91 246.90,507.72 247.30,507.69 247.70,507.73 248.10,507.70 248.50,507.75 248.90,507.52 249.30,507.38 249.70,507.38 250.10,507.35 250.50,507.56 250.90,507.43 251.30,507.41 251.70,507.64 252.10,507.93 252.50,507.76 252.90,507.51 253.30,507.81 253.70,507.46 254.10,507.41 254.50,507.54 254.90,507.60 255.30,507.77 255.70,507.62 256.10,507.79 256.50,507.42 256.90,507.92 257.30,507.57 257.70,507.86 258.10,507.38 258.50,507.86 258.90,507.50 259.30,507.88 259.70,507.85 260.10,507.77 260.50,507.54 260.90,507.38 261.30,507.48 261.70,507.91 262.10,507.47 262.50,507.77 262.90,507.73 263.30,507.77 263.70,507.49 264.10,507.46 264.50,507.44 264.90,507.97 265.30,507.61 265.70,507.77 266.10,507.72 266.50,507.52 266.90,507.42 267.30,507.40 267.70,507.90 268.10,507.47 268.50,507.97 268.90,507.61 269.30,507.82 269.70,507.48 270.10,507.87 270.50,507.55 270.90,507.62 271.30,507.71 271.70,507.46 272.10,507.55 272.50,507.88 272.90,507.57 273.30,507.63 273.70,507.86 274.10,507.54 274.50,507.52 274.90,507.54 275.30,507.64 275.70,507.63 276.10,507.79 276.50,507.69 276.90,507.93 277.30,507.44 277.70,507.81 278.10,507.92 278.50,507.56 278.90,507.43 279.30,507.68 279.70,507.49 280.10,507.70 280.50,507.85 280.90,507.48 281.30,507.49 281.70,507.71 282.10,507.53 282.50,507.56 282.90,507.69 283.30,507.50 283.70,507.47 284.10,507.65 284.50,507.71 284.90,507.99 285.30,507.77 285.70,507.48 286.10,507.57 286.50,507.88 286.90,507.77 287.30,507.96 287.70,508.02 288.10,507.95 288.50,507.51 288.90,508.01 289.30,507.76 289.70,507.59 290.10,507.55 290.50,507.96 290.90,507.57 291.30,507.50 291.70,507.61 292.10,508.00 292.50,507.73 292.90,507.89 293.30,507.50 293.70,507.73 294.10,507.65 294.50,507.58 294.90,507.86 295.30,507.68 295.70,507.53 296.10,508.05 296.50,507.75 296.90,507.57 297.30,507.47 297.70,507.86 298.10,507.77 298.50,507.48 298.90,507.75 299.30,507.91 299.70,507.79 300.10,507.61 300.50,507.77 300.90,507.84 301.30,507.86 301.70,507.56 302.10,507.96 302.50,508.04 302.90,507.92 303.30,507.99 303.70,507.70 304.10,508.02 304.50,507.59 304.90,507.62 305.30,507.84 305.70,508.03 306.10,507.54 306.50,507.62 306.90,507.51 307.30,507.75 307.70,507.57 308.10,507.61 308.50,507.94 308.90,507.84 309.30,508.06 309.70,507.74 310.10,507.90 310.50,507.50 310.90,508.07 311.30,507.64" fill="none" stroke="#000" stroke-width="1.1"/>
<polyline points="191.70,509.49 192.10,509.57 192.50,510.10 192.90,510.10 193.30,510.66 193.70,510.71 194.10,510.73 194.50,511.37 194.90,511.25 195.30,511.80 195.70,511.48 196.10,511.34 196.50,511.78 196.90,511.40 197.30,511.45 197.70,511.41 198.10,511.61 198.50,511.22 198.90,511.43 199.30,511.31 199.70,511.71 200.10,511.21 200.50,511.58 200.90,511.37 201.30,511.49 201.70,511.55 202.10,511.65 202.50,511.30 202.90,511.36 203.30,511.29 203.70,511.80 204.10,511.31 204.50,511.31 204.90,511.54 205.30,511.58 205.70,511.76 206.10,511.26 206.50,511.37 206.90,511.33 207.30,511.58 207.70,511.50 208.10,511.48 208.50,511.77 208.90,511.63 209.30,511.75 209.70,511.81 210.10,511.40 210.50,511.81 210.90,511.49 211.30,511.27 211.70,511.79 212.10,511.31 212.50,511.26 212.90,511.42 213.30,511.42 213.70,511.83 214.10,511.77 214.50,511.50 214.90,511.57 215.30,511.76 215.70,511.74 216.10,511.65 216.50,511.56 216.90,511.33 217.30,511.40 217.70,511.65 218.10,511.61 218.50,511.74 218.90,511.80 219.30,511.84 219.70,511.38 220.10,511.31 220.50,511.80 220.90,511.61 221.30,511.38 221.70,511.68 222.10,511.42 222.50,511.41 222.90,511.49 223.30,511.59 223.70,511.68 224.10,511.32 224.50,511.72 224.90,511.65 225.30,511.56 225.70,511.68 226.10,511.76 226.50,511.29 226.90,511.57 227.30,511.69 227.70,511.71 228.10,511.67 228.50,511.39 228.90,511.86 229.30,511.76 229.70,511.43 230.10,511.55 230.50,511.87 230.90,511.42 231.30,511.54 231.70,511.87 232.10,511.84 232.50,511.44 232.90,511.74 233.30,511.51 233.70,511.70 234.10,511.76 234.50,511.38 234.90,511.44 235.30,511.43 235.70,511.46 236.10,511.33 236.50,511.39 236.90,511.55 237.30,511.56 237.70,511.36 238.10,511.66 238.50,511.88 238.90,511.66 239.30,511.53 239.70,511.74 240.10,511.58 240.50,511.42 240.90,511.61 241.30,511.33 241.70,511.73 242.10,511.42 242.50,511.54 242.90,511.90 243.30,511.78 243.70,511.83 244.10,511.71 244.50,511.71 244.90,511.75 245.30,511.91 245.70,511.45 246.10,511.79 246.50,511.51 246.90,511.49 247.30,511.83 247.70,511.70 248.10,511.85 248.50,511.86 248.90,511.69 249.30,511.46 249.70,511.35 250.10,511.66 250.50,511.78 250.90,511.51 251.30,511.39 251.70,511.35 252.10,511.45 252.50,511.77 252.90,511.35 253.30,511.49 253.70,511.51 254.10,511.78 254.50,511.95 254.90,511.37 255.30,511.42 255.70,511.92 256.10,511.94 256.50,511.45 256.90,511.56 257.30,511.67 257.70,511.55 258.10,511.61 258.50,511.65 258.90,511.52 259.30,511.40 259.70,511.42 260.10,511.47 260.50,511.42 260.90,511.74 261.30,511.79 261.70,511.53 262.10,511.85 262.50,511.81 262.90,511.58 263.30,511.67 263.70,511.49 264.10,511.94 264.50,511.72 264.90,511.41 265.30,511.47 265.70,511.80 266.10,511.61 266.50,511.81 266.90,511.52 267.30,511.86 267.70,511.87 268.10,511.44 268.50,511.74 268.90,511.51 269.30,511.82 269.70,511.87 270.10,511.87 270.50,511.53 270.90,511.45 271.30,511.79 271.70,511.74 272.10,511.48 272.50,511.52 272.90,511.75 273.30,511.47 273.70,511.78 274.10,511.55 274.50,511.56 274.90,511.66 275.30,511.73 275.70,511.84 276.10,511.43 276.50,511.84 276.90,511.54 277.30,511.59 277.70,511.80 278.10,511.83 278.50,511.78 278.90,511.96 279.30,511.54 279.70,511.60 280.10,511.82 280.50,511.58 280.90,511.52 281.30,511.56 281.70,511.89 282.10,511.92 282.50,511.86 282.90,512.00 283.30,511.90 283.70,511.61 284.10,511.62 284.50,511.86 284.90,511.46 285.30,511.80 285.70,511.49 286.10,511.46 286.50,511.74 286.90,511.53 287.30,512.00 287.70,511.97 288.10,511.72 288.50,511.56 288.90,511.51 289.30,511.75 289.70,511.76 290.10,511.66 290.50,511.88 290.90,511.76 291.30,511.91 291.70,511.51 292.10,511.49 292.50,511.68 292.90,511.74 293.30,511.60 293.70,511.86 294.10,511.59 294.50,511.65 294.90,511.74 295.30,511.89 295.70,511.92 296.10,511.68 296.50,511.73 296.90,512.02 297.30,512.02 297.70,511.84 298.10,511.53 298.50,511.74 298.90,511.85 299.30,511.64 299.70,511.49 300.10,512.06 300.50,512.02 300.90,511.55 301.30,511.75 301.70,511.85 302.10,511.66 302.50,511.52 302.90,511.93 303.30,511.94 303.70,511.74 304.10,511.53 304.50,511.72 304.90,511.54 305.30,512.06 305.70,511.52 306.10,511.66 306.50,511.95 306.90,511.57 307.30,511.55 307.70,511.53 308.10,511.59 308.50,511.81 308.90,511.99 309.30,511.60 309.70,511.60 310.10,511.96 310.50,511.75 310.90,511.70 311.30,511.57" fill="none" stroke="#000" stroke-width="1.1"/>
<polyline points="312.50,521.90 313.00,520.33 313.50,515.35 314.00,515.07 314.50,514.93 315.00,514.66 315.50,514.66 316.00,514.49 316.50,514.68 317.00,514.54 317.50,514.42 318.00,514.49 318.50,514.59 319.00,514.59 319.50,514.35 320.00,514.38 320.50,514.68 321.00,514.34 321.50,514.63 322.00,514.44 322.50,514.40 323.00,514.40" fill="none" stroke="#000" stroke-width="1.1"/>
<polyline points="312.50,521.99 313.00,520.29 313.50,515.39 314.00,515.27 314.50,514.78 315.00,514.40 315.50,514.57 316.00,514.45 316.50,514.41 317.00,514.48 317.50,514.60 318.00,514.61 318.50,514.52 319.00,514.35 319.50,514.58 320.00,514.53 320.50,514.62 321.00,514.64 321.50,514.45 322.00,514.60 322.50,514.60 323.00,514.43" fill="none" stroke="#ff0000" stroke-width="1.0" opacity="0.8"/>
<line x1="68.80" y1="514.40" x2="68.80" y2="615.50" stroke="#ff0000" stroke-width="1.2"/>
<line x1="190.90" y1="496.00" x2="190.90" y2="615.50" stroke="#ff0000" stroke-width="1.2"/>
<line x1="311.90" y1="507.80" x2="311.90" y2="615.50" stroke="#ff0000" stroke-width="1.2"/>
<path d="M201.6,578.7 V613.4 H228.9" fill="none" stroke="#000" stroke-width="3.2" stroke-linecap="butt" stroke-linejoin="miter"/>
<text x="209.8" y="592.7" font-size="19.3">2 µA</text>
<text x="209.7" y="634.1" font-size="19.2">0.05 s</text>
<text x="108.3" y="517.3" font-size="19.3">ND 96</text>
<text x="84.3" y="546.0" font-size="19.4" fill="#ff0000">100 µM BD</text>
<text x="113.8" y="588.2" font-size="19.3">96 K<tspan font-size="12.5" dy="-11.5">+</tspan></text>
<text x="2.2" y="676.0" font-size="21.4" font-weight="bold">E</text>
<text x="148.5" y="679.5" font-size="19.5" font-weight="bold">GIRK4 + G<tspan font-size="12.5" dy="8.7">βγ</tspan></text>
<text x="0" y="0" font-size="18.8" transform="translate(39.1,722.3) scale(0.98,1.1)">0</text>
<polygon points="50.9,708.4 62.8,715.8 50.9,723.2" fill="#000"/>
<line x1="65.20" y1="715.40" x2="69.60" y2="715.40" stroke="#ff0000" stroke-width="1.3"/>
<line x1="65.20" y1="715.40" x2="67.00" y2="715.40" stroke="#000" stroke-width="1.3"/>
<polyline points="70.70,717.30 70.60,723.23 71.10,723.23 71.60,723.22 72.10,723.23 72.60,723.09 73.10,723.14 73.60,723.48 74.10,723.23 74.60,723.33 75.10,723.46 75.60,723.39 76.10,723.13 76.60,723.46 77.10,723.40 77.60,723.49 78.10,723.35 78.60,723.36 79.10,723.38 79.60,723.10 80.10,723.30 80.60,723.16 81.10,723.38 81.60,723.02 82.10,723.22 82.60,723.12 83.10,723.36 83.60,723.11 84.10,723.36 84.60,723.36 85.10,723.37 85.60,722.99 86.10,723.39 86.60,723.29 87.10,723.25 87.60,723.23 88.10,722.93 88.60,723.33 89.10,723.17 89.60,723.12 90.10,723.06 90.60,723.27 91.10,723.27 91.60,723.31 92.10,722.98 92.60,723.04 93.10,722.99 93.60,722.91 94.10,723.02 94.60,722.86 95.10,723.24 95.60,722.95 96.10,722.87 96.60,722.86 97.10,723.20 97.60,722.92 98.10,723.05 98.60,723.02 99.10,723.21 99.60,723.28 100.10,722.96 100.60,723.11 101.10,723.24 101.60,723.02 102.10,723.23 102.60,723.15 103.10,722.93 103.60,723.21 104.10,723.05 104.60,722.82 105.10,723.05 105.60,723.17 106.10,723.01 106.60,722.99 107.10,722.95 107.60,723.18 108.10,723.07 108.60,722.83 109.10,722.91 109.60,722.90 110.10,723.20 110.60,723.06 111.10,722.77 111.60,723.16 112.10,722.72 112.60,722.99 113.10,722.91 113.60,723.05 114.10,722.90 114.60,722.73 115.10,722.94 115.60,723.08 116.10,723.06 116.60,722.84 117.10,722.77 117.60,723.03 118.10,723.05 118.60,722.76 119.10,723.08 119.60,723.13 120.10,722.85 120.60,722.82 121.10,722.98 121.60,723.09 122.10,722.72 122.60,722.76 123.10,722.77 123.60,722.97 124.10,722.69 124.60,722.87 125.10,722.84 125.60,722.92 126.10,722.65 126.60,723.06 127.10,723.07 127.60,722.85 128.10,722.96 128.60,722.65 129.10,723.01 129.60,722.83 130.10,722.93 130.60,722.98 131.10,722.72 131.60,723.00 132.10,722.64 132.60,722.54 133.10,722.78 133.60,722.98 134.10,722.97 134.60,723.00 135.10,722.77 135.60,722.98 136.10,722.79 136.60,722.58 137.10,722.82 137.60,722.90 138.10,722.71 138.60,722.79 139.10,722.62 139.60,722.63 140.10,722.69 140.60,722.74 141.10,722.71 141.60,722.52 142.10,722.47 142.60,722.64 143.10,722.82 143.60,722.83 144.10,722.58 144.60,722.58 145.10,722.71 145.60,722.54 146.10,722.75 146.60,722.89 147.10,722.54 147.60,722.73 148.10,722.79 148.60,722.80 149.10,722.78 149.60,722.78 150.10,722.55 150.60,722.83 151.10,722.87 151.60,722.43 152.10,722.88 152.60,722.62 153.10,722.44 153.60,722.43 154.10,722.79 154.60,722.73 155.10,722.46 155.60,722.61 156.10,722.70 156.60,722.87 157.10,722.54 157.60,722.75 158.10,722.49 158.60,722.46 159.10,722.44 159.60,722.56 160.10,722.66 160.60,722.50 161.10,722.43 161.60,722.45 162.10,722.38 162.60,722.43 163.10,722.49 163.60,722.58 164.10,722.42 164.60,722.56 165.10,722.54 165.60,722.80 166.10,722.56 166.60,722.78 167.10,722.54 167.60,722.40 168.10,722.60 168.60,722.37 169.10,722.38 169.60,722.33 170.10,722.64 170.60,722.77 171.10,722.48 171.60,722.45 172.10,722.49 172.60,722.45 173.10,722.61 173.60,722.46 174.10,722.34 174.60,722.69 175.10,722.54 175.60,722.25 176.10,722.67 176.60,722.61 177.10,722.42 177.60,722.55 178.10,722.69 178.60,722.43 179.10,722.44 179.60,722.37 180.10,722.50 180.60,722.55 181.10,722.58 181.60,722.69 182.10,722.28 182.60,722.39 183.10,722.63 183.60,722.59 184.10,722.49 184.60,722.53 185.10,722.36 185.60,722.66 186.10,722.46 186.60,722.38 187.10,722.27 187.60,722.23 188.10,722.62 188.60,722.57 189.10,722.18 189.60,722.32 190.10,722.40 190.60,722.40 191.10,722.33" fill="none" stroke="#000" stroke-width="1.1"/>
<polyline points="70.70,778.60 70.60,784.80 71.10,785.13 71.60,785.82 72.10,786.63 72.60,787.09 73.10,787.53 73.60,787.69 74.10,787.95 74.60,788.29 75.10,788.61 75.60,788.58 76.10,788.86 76.60,789.10 77.10,789.32 77.60,789.82 78.10,789.84 78.60,789.82 79.10,789.95 79.60,790.30 80.10,790.08 80.60,790.45 81.10,790.23 81.60,790.42 82.10,790.46 82.60,790.94 83.10,790.72 83.60,790.86 84.10,790.89 84.60,791.10 85.10,791.43 85.60,791.47 86.10,791.62 86.60,791.68 87.10,791.54 87.60,791.77 88.10,791.40 88.60,791.87 89.10,791.68 89.60,791.61 90.10,791.93 90.60,792.04 91.10,791.85 91.60,791.76 92.10,792.20 92.60,792.19 93.10,792.16 93.60,792.40 94.10,791.98 94.60,792.04 95.10,792.12 95.60,792.12 96.10,792.51 96.60,792.53 97.10,792.32 97.60,792.39 98.10,792.45 98.60,792.71 99.10,792.80 99.60,792.99 100.10,792.74 100.60,793.07 101.10,792.83 101.60,792.83 102.10,792.79 102.60,792.81 103.10,793.21 103.60,793.25 104.10,793.13 104.60,792.89 105.10,792.92 105.60,792.93 106.10,793.06 106.60,793.28 107.10,792.97 107.60,793.23 108.10,793.34 108.60,793.04 109.10,793.27 109.60,793.47 110.10,793.39 110.60,793.36 111.10,793.60 111.60,793.49 112.10,793.38 112.60,793.44 113.10,793.74 113.60,793.73 114.10,793.78 114.60,793.63 115.10,793.45 115.60,793.50 116.10,793.63 116.60,793.81 117.10,793.49 117.60,793.92 118.10,793.94 118.60,793.83 119.10,793.60 119.60,794.03 120.10,793.86 120.60,794.02 121.10,794.00 121.60,794.10 122.10,793.97 122.60,794.27 123.10,794.30 123.60,794.31 124.10,794.18 124.60,794.06 125.10,794.12 125.60,794.09 126.10,794.44 126.60,794.41 127.10,794.43 127.60,794.48 128.10,794.59 128.60,794.47 129.10,794.31 129.60,794.56 130.10,794.34 130.60,794.54 131.10,794.34 131.60,794.72 132.10,794.56 132.60,794.48 133.10,794.83 133.60,794.44 134.10,794.89 134.60,794.83 135.10,794.56 135.60,794.89 136.10,794.82 136.60,795.02 137.10,794.88 137.60,794.83 138.10,795.11 138.60,794.72 139.10,795.09 139.60,794.78 140.10,794.89 140.60,794.83 141.10,795.23 141.60,795.03 142.10,795.19 142.60,794.98 143.10,795.23 143.60,795.21 144.10,794.95 144.60,795.17 145.10,795.30 145.60,795.07 146.10,795.30 146.60,795.13 147.10,795.20 147.60,795.49 148.10,795.52 148.60,795.57 149.10,795.30 149.60,795.39 150.10,795.53 150.60,795.52 151.10,795.39 151.60,795.61 152.10,795.40 152.60,795.69 153.10,795.47 153.60,795.32 154.10,795.65 154.60,795.37 155.10,795.65 155.60,795.36 156.10,795.84 156.60,795.64 157.10,795.76 157.60,795.47 158.10,795.74 158.60,795.63 159.10,795.59 159.60,795.89 160.10,795.52 160.60,795.76 161.10,795.58 161.60,795.98 162.10,796.02 162.60,795.61 163.10,795.84 163.60,795.86 164.10,796.01 164.60,796.03 165.10,795.86 165.60,796.17 166.10,795.82 166.60,795.81 167.10,796.17 167.60,795.84 168.10,795.89 168.60,796.07 169.10,796.00 169.60,795.93 170.10,796.34 170.60,796.13 171.10,796.30 171.60,796.05 172.10,796.40 172.60,796.08 173.10,796.44 173.60,796.31 174.10,796.51 174.60,796.42 175.10,796.37 175.60,796.34 176.10,796.52 176.60,796.34 177.10,796.18 177.60,796.61 178.10,796.57 178.60,796.53 179.10,796.58 179.60,796.34 180.10,796.48 180.60,796.67 181.10,796.76 181.60,796.76 182.10,796.40 182.60,796.68 183.10,796.63 183.60,796.58 184.10,796.48 184.60,796.48 185.10,796.67 185.60,796.70 186.10,796.60 186.60,796.67 187.10,796.78 187.60,796.90 188.10,796.84 188.60,796.64 189.10,797.02 189.60,796.78 190.10,797.10 190.60,797.13 191.10,796.72" fill="none" stroke="#000" stroke-width="1.1"/>
<line x1="70.70" y1="722.80" x2="70.70" y2="784.60" stroke="#000" stroke-width="1.0"/>
<polyline points="70.60,740.44 71.10,740.62 71.60,740.32 72.10,740.40 72.60,740.27 73.10,740.12 73.60,740.20 74.10,740.15 74.60,740.22 75.10,740.38 75.60,740.34 76.10,740.52 76.60,740.38 77.10,740.21 77.60,740.50 78.10,740.33 78.60,740.27 79.10,740.42 79.60,740.32 80.10,740.15 80.60,740.27 81.10,740.11 81.60,740.43 82.10,740.06 82.60,740.41 83.10,739.95 83.60,739.91 84.10,740.18 84.60,739.99 85.10,740.14 85.60,739.93 86.10,740.28 86.60,740.19 87.10,740.19 87.60,740.30 88.10,740.32 88.60,740.16 89.10,740.16 89.60,739.80 90.10,739.81 90.60,739.99 91.10,740.25 91.60,739.92 92.10,740.04 92.60,739.75 93.10,739.94 93.60,740.18 94.10,740.01 94.60,740.12 95.10,739.70 95.60,739.79 96.10,739.77 96.60,740.08 97.10,739.71 97.60,740.12 98.10,739.77 98.60,740.07 99.10,739.88 99.60,739.77 100.10,740.09 100.60,739.80 101.10,739.93 101.60,739.61 102.10,739.98 102.60,740.05 103.10,739.60 103.60,739.91 104.10,739.66 104.60,739.59 105.10,739.69 105.60,739.83 106.10,739.97 106.60,739.98 107.10,739.97 107.60,739.78 108.10,739.78 108.60,739.53 109.10,739.80 109.60,739.70 110.10,739.60 110.60,739.86 111.10,739.53 111.60,739.46 112.10,739.46 112.60,739.45 113.10,739.66 113.60,739.75 114.10,739.42 114.60,739.59 115.10,739.61 115.60,739.60 116.10,739.51 116.60,739.57 117.10,739.30 117.60,739.31 118.10,739.48 118.60,739.38 119.10,739.63 119.60,739.36 120.10,739.65 120.60,739.34 121.10,739.26 121.60,739.44 122.10,739.39 122.60,739.35 123.10,739.56 123.60,739.28 124.10,739.49 124.60,739.57 125.10,739.37 125.60,739.38 126.10,739.58 126.60,739.41 127.10,739.19 127.60,739.13 128.10,739.13 128.60,739.24 129.10,739.11 129.60,739.38 130.10,739.26 130.60,739.19 131.10,739.29 131.60,739.49 132.10,739.13 132.60,739.08 133.10,739.15 133.60,739.15 134.10,739.43 134.60,739.32 135.10,739.17 135.60,739.03 136.10,738.96 136.60,738.99 137.10,739.35 137.60,739.24 138.10,738.98 138.60,739.21 139.10,738.92 139.60,739.13 140.10,739.04 140.60,738.91 141.10,739.22 141.60,739.20 142.10,739.09 142.60,738.91 143.10,739.15 143.60,739.02 144.10,739.13 144.60,738.83 145.10,739.23 145.60,738.77 146.10,738.87 146.60,738.95 147.10,738.84 147.60,738.78 148.10,739.07 148.60,739.21 149.10,738.87 149.60,738.83 150.10,739.02 150.60,738.79 151.10,738.87 151.60,739.00 152.10,738.87 152.60,738.72 153.10,738.67 153.60,738.90 154.10,739.11 154.60,739.07 155.10,738.65 155.60,738.84 156.10,738.82 156.60,738.67 157.10,738.90 157.60,738.80 158.10,738.95 158.60,738.68 159.10,738.99 159.60,738.92 160.10,738.74 160.60,738.57 161.10,738.73 161.60,738.54 162.10,738.81 162.60,738.81 163.10,738.74 163.60,738.93 164.10,738.46 164.60,738.78 165.10,738.82 165.60,738.46 166.10,738.56 166.60,738.42 167.10,738.67 167.60,738.73 168.10,738.54 168.60,738.70 169.10,738.53 169.60,738.69 170.10,738.47 170.60,738.81 171.10,738.53 171.60,738.30 172.10,738.34 172.60,738.64 173.10,738.71 173.60,738.58 174.10,738.33 174.60,738.68 175.10,738.60 175.60,738.29 176.10,738.41 176.60,738.55 177.10,738.20 177.60,738.21 178.10,738.36 178.60,738.61 179.10,738.66 179.60,738.31 180.10,738.60 180.60,738.53 181.10,738.56 181.60,738.41 182.10,738.60 182.60,738.42 183.10,738.57 183.60,738.37 184.10,738.17 184.60,738.32 185.10,738.30 185.60,738.22 186.10,738.23 186.60,738.28 187.10,738.31 187.60,738.12 188.10,738.14 188.60,738.24 189.10,738.24 189.60,738.18 190.10,738.30 190.60,738.05 191.10,738.22" fill="none" stroke="#ff0000" stroke-width="1.1"/>
<polyline points="192.60,708.87 193.10,709.22 193.60,709.44 194.10,709.76 194.60,709.86 195.10,709.97 195.60,710.64 196.10,710.60 196.60,710.51 197.10,710.45 197.60,710.51 198.10,710.68 198.60,710.74 199.10,710.53 199.60,710.67 200.10,710.34 200.60,710.48 201.10,710.41 201.60,710.37 202.10,710.39 202.60,710.62 203.10,710.60 203.60,710.27 204.10,710.28 204.60,710.60 205.10,710.51 205.60,710.51 206.10,710.48 206.60,710.50 207.10,710.24 207.60,710.10 208.10,710.27 208.60,710.06 209.10,710.61 209.60,710.34 210.10,710.41 210.60,710.58 211.10,710.48 211.60,710.12 212.10,710.17 212.60,710.03 213.10,710.43 213.60,710.38 214.10,710.22 214.60,710.14 215.10,710.07 215.60,710.19 216.10,710.32 216.60,710.42 217.10,710.38 217.60,710.38 218.10,710.11 218.60,710.09 219.10,710.02 219.60,710.40 220.10,709.92 220.60,709.89 221.10,709.96 221.60,710.33 222.10,710.28 222.60,709.96 223.10,710.26 223.60,710.27 224.10,709.98 224.60,709.83 225.10,710.17 225.60,709.92 226.10,709.76 226.60,710.22 227.10,709.93 227.60,709.89 228.10,710.00 228.60,709.79 229.10,709.64 229.60,709.85 230.10,709.83 230.60,709.60 231.10,709.81 231.60,710.03 232.10,709.76 232.60,709.96 233.10,709.92 233.60,709.65 234.10,709.54 234.60,709.92 235.10,709.87 235.60,709.67 236.10,709.60 236.60,709.99 237.10,710.01 237.60,709.59 238.10,709.79 238.60,709.78 239.10,709.62 239.60,709.43 240.10,709.60 240.60,709.78 241.10,709.74 241.60,709.68 242.10,709.43 242.60,709.48 243.10,709.53 243.60,709.58 244.10,709.54 244.60,709.85 245.10,709.37 245.60,709.88 246.10,709.42 246.60,709.78 247.10,709.41 247.60,709.60 248.10,709.47 248.60,709.25 249.10,709.70 249.60,709.69 250.10,709.36 250.60,709.65 251.10,709.46 251.60,709.75 252.10,709.18 252.60,709.36 253.10,709.25 253.60,709.48 254.10,709.56 254.60,709.58 255.10,709.39 255.60,709.28 256.10,709.52 256.60,709.09 257.10,709.17 257.60,709.45 258.10,709.25 258.60,709.57 259.10,709.01 259.60,709.22 260.10,709.06 260.60,708.92 261.10,708.96 261.60,708.94 262.10,709.10 262.60,709.12 263.10,709.15 263.60,709.01 264.10,709.24 264.60,709.12 265.10,709.38 265.60,708.88 266.10,709.08 266.60,709.05 267.10,708.97 267.60,709.25 268.10,708.84 268.60,709.23 269.10,708.90 269.60,708.88 270.10,709.03 270.60,708.99 271.10,708.81 271.60,708.67 272.10,709.18 272.60,708.82 273.10,708.65 273.60,708.96 274.10,708.87 274.60,708.74 275.10,708.73 275.60,709.02 276.10,708.70 276.60,708.74 277.10,709.05 277.60,708.68 278.10,708.69 278.60,708.53 279.10,708.82 279.60,708.81 280.10,708.66 280.60,708.62 281.10,708.51 281.60,708.83 282.10,708.61 282.60,708.83 283.10,708.54 283.60,708.74 284.10,708.30 284.60,708.41 285.10,708.84 285.60,708.66 286.10,708.64 286.60,708.52 287.10,708.49 287.60,708.31 288.10,708.28 288.60,708.55 289.10,708.57 289.60,708.30 290.10,708.51 290.60,708.19 291.10,708.47 291.60,708.19 292.10,708.38 292.60,708.25 293.10,708.38 293.60,708.11 294.10,708.31 294.60,708.38 295.10,708.07 295.60,708.16 296.10,708.37 296.60,708.28 297.10,708.31 297.60,708.39 298.10,708.26 298.60,708.03 299.10,708.15 299.60,708.37 300.10,708.20 300.60,708.30 301.10,708.05 301.60,708.09 302.10,708.39 302.60,708.29 303.10,708.17 303.60,707.83 304.10,708.12 304.60,707.76 305.10,708.29 305.60,708.29 306.10,708.13 306.60,707.85 307.10,708.18 307.60,707.76 308.10,708.14 308.60,707.94 309.10,707.63 309.60,708.14 310.10,707.86 310.60,708.08 311.10,707.98 311.60,707.87 312.10,708.05 312.60,707.65 313.10,708.05 313.60,707.70" fill="none" stroke="#ff0000" stroke-width="1.3"/>
<polyline points="192.60,710.22 193.00,710.40 193.40,710.47 193.80,710.70 194.20,711.25 194.60,711.18 195.00,711.43 195.40,711.74 195.80,711.95 196.20,712.45 196.60,712.44 197.00,712.42 197.40,712.49 197.80,712.16 198.20,712.37 198.60,712.06 199.00,712.44 199.40,712.37 199.80,712.33 200.20,712.02 200.60,711.94 201.00,712.44 201.40,712.21 201.80,712.25 202.20,712.39 202.60,711.96 203.00,712.29 203.40,712.15 203.80,712.34 204.20,712.14 204.60,711.99 205.00,712.44 205.40,712.03 205.80,712.31 206.20,712.36 206.60,712.01 207.00,712.28 207.40,712.10 207.80,711.99 208.20,711.99 208.60,712.43 209.00,712.07 209.40,712.16 209.80,712.15 210.20,711.86 210.60,712.30 211.00,712.29 211.40,712.37 211.80,712.06 212.20,711.97 212.60,712.05 213.00,712.28 213.40,712.23 213.80,712.08 214.20,712.15 214.60,711.92 215.00,712.38 215.40,712.11 215.80,712.13 216.20,712.30 216.60,711.94 217.00,712.26 217.40,712.03 217.80,712.31 218.20,711.87 218.60,711.98 219.00,712.20 219.40,712.10 219.80,712.04 220.20,712.16 220.60,711.94 221.00,712.07 221.40,711.81 221.80,712.28 222.20,711.96 222.60,712.30 223.00,712.13 223.40,712.16 223.80,712.17 224.20,711.87 224.60,712.26 225.00,711.97 225.40,712.31 225.80,712.26 226.20,712.20 226.60,712.28 227.00,712.05 227.40,712.19 227.80,712.35 228.20,711.89 228.60,711.84 229.00,712.02 229.40,712.08 229.80,711.86 230.20,711.91 230.60,712.29 231.00,712.00 231.40,711.86 231.80,711.88 232.20,712.11 232.60,711.88 233.00,712.05 233.40,712.08 233.80,712.02 234.20,712.06 234.60,712.26 235.00,711.77 235.40,712.31 235.80,711.87 236.20,711.77 236.60,712.21 237.00,712.09 237.40,712.07 237.80,711.88 238.20,712.21 238.60,711.93 239.00,712.18 239.40,711.88 239.80,712.08 240.20,712.13 240.60,711.96 241.00,712.02 241.40,711.77 241.80,712.12 242.20,712.14 242.60,711.82 243.00,712.06 243.40,712.16 243.80,711.78 244.20,712.22 244.60,712.24 245.00,711.75 245.40,711.87 245.80,711.77 246.20,711.87 246.60,711.76 247.00,712.00 247.40,711.86 247.80,711.89 248.20,711.98 248.60,711.93 249.00,712.18 249.40,712.14 249.80,711.77 250.20,711.83 250.60,711.70 251.00,711.89 251.40,711.76 251.80,712.11 252.20,712.16 252.60,712.29 253.00,711.82 253.40,711.71 253.80,712.14 254.20,711.93 254.60,712.24 255.00,711.92 255.40,711.87 255.80,711.73 256.20,712.25 256.60,711.99 257.00,711.94 257.40,711.94 257.80,712.14 258.20,712.17 258.60,711.96 259.00,711.78 259.40,711.91 259.80,712.20 260.20,711.91 260.60,712.06 261.00,712.00 261.40,711.94 261.80,712.01 262.20,711.81 262.60,711.99 263.00,712.18 263.40,711.71 263.80,711.88 264.20,712.18 264.60,712.24 265.00,711.66 265.40,712.03 265.80,712.03 266.20,712.15 266.60,711.93 267.00,711.73 267.40,711.83 267.80,712.07 268.20,712.08 268.60,711.76 269.00,712.03 269.40,712.03 269.80,712.03 270.20,711.65 270.60,711.90 271.00,711.83 271.40,711.99 271.80,711.83 272.20,711.71 272.60,712.03 273.00,711.80 273.40,712.10 273.80,711.81 274.20,711.95 274.60,712.11 275.00,711.69 275.40,712.06 275.80,711.66 276.20,712.18 276.60,711.63 277.00,712.05 277.40,711.83 277.80,711.72 278.20,711.85 278.60,711.91 279.00,711.86 279.40,711.68 279.80,711.92 280.20,711.78 280.60,712.18 281.00,711.83 281.40,711.86 281.80,711.74 282.20,712.18 282.60,711.79 283.00,711.98 283.40,712.09 283.80,711.83 284.20,712.05 284.60,711.76 285.00,711.66 285.40,711.61 285.80,711.86 286.20,712.11 286.60,711.71 287.00,711.85 287.40,712.04 287.80,711.75 288.20,711.67 288.60,711.89 289.00,711.83 289.40,712.14 289.80,712.11 290.20,711.72 290.60,711.91 291.00,711.82 291.40,711.59 291.80,711.83 292.20,712.12 292.60,711.75 293.00,711.92 293.40,711.99 293.80,711.60 294.20,712.12 294.60,711.63 295.00,711.74 295.40,711.99 295.80,711.57 296.20,711.78 296.60,711.63 297.00,711.84 297.40,711.56 297.80,711.64 298.20,711.68 298.60,711.60 299.00,711.60 299.40,711.66 299.80,711.85 300.20,711.62 300.60,712.03 301.00,711.79 301.40,711.69 301.80,711.68 302.20,712.04 302.60,711.56 303.00,711.98 303.40,711.59 303.80,712.10 304.20,711.77 304.60,711.89 305.00,712.04 305.40,711.59 305.80,711.56 306.20,711.94 306.60,711.87 307.00,711.95 307.40,711.69 307.80,711.82 308.20,711.63 308.60,711.78 309.00,711.68 309.40,711.86 309.80,711.69 310.20,711.68 310.60,711.89 311.00,711.56 311.40,711.99 311.80,711.80 312.20,711.64 312.60,711.57 313.00,711.81 313.40,711.80" fill="none" stroke="#000" stroke-width="1.1"/>
<polyline points="314.60,724.09 315.10,723.95 315.60,720.21 316.10,716.59 316.60,716.02 317.10,715.98 317.60,715.62 318.10,715.39 318.60,715.36 319.10,715.08 319.60,715.29 320.10,715.19 320.60,715.02 321.10,715.33 321.60,715.17 322.10,715.23 322.60,715.11 323.10,714.91 323.60,715.21 324.10,714.92 324.60,714.95 325.10,715.08 325.60,714.90 326.10,714.99" fill="none" stroke="#000" stroke-width="1.1"/>
<polyline points="314.60,724.06 315.10,723.88 315.60,720.30 316.10,716.32 316.60,716.10 317.10,715.83 317.60,715.52 318.10,715.06 318.60,715.09 319.10,715.31 319.60,715.13 320.10,715.13 320.60,715.10 321.10,715.19 321.60,715.19 322.10,715.15 322.60,715.06 323.10,715.10 323.60,715.07 324.10,714.96 324.60,715.18 325.10,715.17 325.60,715.10 326.10,715.15" fill="none" stroke="#ff0000" stroke-width="1.0" opacity="0.8"/>
<line x1="69.60" y1="715.40" x2="69.60" y2="820.60" stroke="#ff0000" stroke-width="1.2"/>
<line x1="191.80" y1="689.60" x2="191.80" y2="820.60" stroke="#ff0000" stroke-width="1.2"/>
<line x1="314.00" y1="711.80" x2="314.00" y2="811.00" stroke="#ff0000" stroke-width="1.2"/>
<path d="M210.6,782.3 V819.0 H235.8" fill="none" stroke="#000" stroke-width="3.2" stroke-linecap="butt" stroke-linejoin="miter"/>
<text x="217.0" y="802.3" font-size="19.3">5 µA</text>
<text x="206.5" y="840.2" font-size="19.2">0.05 s</text>
<text x="108.3" y="719.7" font-size="19.3">ND 96</text>
<text x="89.2" y="758.1" font-size="19.4" fill="#ff0000">100 µM BD</text>
<text x="120.6" y="788.2" font-size="19.3">96 K<tspan font-size="12.5" dy="-11.5">+</tspan></text>
<path d="M460.90,124.20 V268.00 H668.40" fill="none" stroke="#000" stroke-width="1.25"/>
<line x1="460.90" y1="136.40" x2="465.10" y2="136.40" stroke="#000" stroke-width="1.2"/>
<text x="458.3" y="140.2" font-size="10.4" text-anchor="end" fill="#1a1a1a">0</text>
<line x1="460.90" y1="162.06" x2="465.10" y2="162.06" stroke="#000" stroke-width="1.2"/>
<text x="458.3" y="165.9" font-size="10.4" text-anchor="end" fill="#1a1a1a">-2</text>
<line x1="460.90" y1="187.72" x2="465.10" y2="187.72" stroke="#000" stroke-width="1.2"/>
<text x="458.3" y="191.5" font-size="10.4" text-anchor="end" fill="#1a1a1a">-4</text>
<line x1="460.90" y1="213.38" x2="465.10" y2="213.38" stroke="#000" stroke-width="1.2"/>
<text x="458.3" y="217.2" font-size="10.4" text-anchor="end" fill="#1a1a1a">-6</text>
<line x1="460.90" y1="239.04" x2="465.10" y2="239.04" stroke="#000" stroke-width="1.2"/>
<text x="458.3" y="242.8" font-size="10.4" text-anchor="end" fill="#1a1a1a">-8</text>
<line x1="460.90" y1="264.70" x2="465.10" y2="264.70" stroke="#000" stroke-width="1.2"/>
<text x="458.3" y="268.5" font-size="10.4" text-anchor="end" fill="#1a1a1a">-10</text>
<line x1="476.80" y1="268.00" x2="476.80" y2="263.40" stroke="#000" stroke-width="1.2"/>
<text x="476.8" y="281.8" font-size="10.4" text-anchor="middle" fill="#1a1a1a">200</text>
<line x1="508.72" y1="268.00" x2="508.72" y2="263.40" stroke="#000" stroke-width="1.2"/>
<text x="508.7" y="281.8" font-size="10.4" text-anchor="middle" fill="#1a1a1a">250</text>
<line x1="540.63" y1="268.00" x2="540.63" y2="263.40" stroke="#000" stroke-width="1.2"/>
<text x="540.6" y="281.8" font-size="10.4" text-anchor="middle" fill="#1a1a1a">300</text>
<line x1="572.54" y1="268.00" x2="572.54" y2="263.40" stroke="#000" stroke-width="1.2"/>
<text x="572.5" y="281.8" font-size="10.4" text-anchor="middle" fill="#1a1a1a">350</text>
<line x1="604.46" y1="268.00" x2="604.46" y2="263.40" stroke="#000" stroke-width="1.2"/>
<text x="604.5" y="281.8" font-size="10.4" text-anchor="middle" fill="#1a1a1a">400</text>
<line x1="636.38" y1="268.00" x2="636.38" y2="263.40" stroke="#000" stroke-width="1.2"/>
<text x="636.4" y="281.8" font-size="10.4" text-anchor="middle" fill="#1a1a1a">450</text>
<line x1="668.29" y1="268.00" x2="668.29" y2="263.40" stroke="#000" stroke-width="1.2"/>
<text x="668.3" y="281.8" font-size="10.4" text-anchor="middle" fill="#1a1a1a">500</text>
<text x="0" y="0" font-size="10.9" text-anchor="middle" fill="#1a1a1a" transform="translate(438.6,189.3) rotate(-90)">Current Amplitude (µA)</text>
<text x="565.7" y="294.1" font-size="10.6" text-anchor="middle" fill="#222">Time (s)</text>
<text x="458.2" y="121.8" font-size="12.85" font-weight="bold">ND96</text>
<line x1="460.30" y1="124.30" x2="475.80" y2="124.30" stroke="#000" stroke-width="2.5"/>
<text x="544.6" y="119.9" font-size="12.85" font-weight="bold">BD 100 µM</text>
<line x1="548.60" y1="124.60" x2="616.80" y2="124.60" stroke="#000" stroke-width="2.5"/>
<g fill="#686868"><rect x="460.30" y="132.00" width="4.4" height="4.4"/><rect x="463.55" y="132.00" width="4.4" height="4.4"/><rect x="466.80" y="132.00" width="4.4" height="4.4"/><rect x="470.05" y="132.00" width="4.4" height="4.4"/><rect x="473.30" y="131.65" width="4.4" height="4.4"/><rect x="476.55" y="130.89" width="4.4" height="4.4"/><rect x="479.80" y="130.34" width="4.4" height="4.4"/><rect x="483.05" y="129.92" width="4.4" height="4.4"/><rect x="486.30" y="129.50" width="4.4" height="4.4"/><rect x="489.55" y="129.18" width="4.4" height="4.4"/><rect x="492.80" y="128.95" width="4.4" height="4.4"/><rect x="496.05" y="128.72" width="4.4" height="4.4"/><rect x="499.30" y="128.58" width="4.4" height="4.4"/><rect x="502.55" y="128.53" width="4.4" height="4.4"/><rect x="505.80" y="128.48" width="4.4" height="4.4"/><rect x="509.05" y="128.43" width="4.4" height="4.4"/><rect x="512.30" y="128.38" width="4.4" height="4.4"/><rect x="515.55" y="128.33" width="4.4" height="4.4"/><rect x="518.80" y="128.29" width="4.4" height="4.4"/><rect x="522.05" y="128.27" width="4.4" height="4.4"/><rect x="525.30" y="128.24" width="4.4" height="4.4"/><rect x="528.55" y="128.22" width="4.4" height="4.4"/><rect x="531.80" y="128.19" width="4.4" height="4.4"/><rect x="535.05" y="128.17" width="4.4" height="4.4"/><rect x="538.30" y="128.15" width="4.4" height="4.4"/><rect x="541.55" y="128.12" width="4.4" height="4.4"/><rect x="544.80" y="128.10" width="4.4" height="4.4"/><rect x="548.05" y="128.07" width="4.4" height="4.4"/><rect x="551.30" y="128.05" width="4.4" height="4.4"/><rect x="554.55" y="128.02" width="4.4" height="4.4"/><rect x="557.80" y="128.00" width="4.4" height="4.4"/><rect x="561.05" y="128.01" width="4.4" height="4.4"/><rect x="564.30" y="128.02" width="4.4" height="4.4"/><rect x="567.55" y="128.02" width="4.4" height="4.4"/><rect x="570.80" y="128.03" width="4.4" height="4.4"/><rect x="574.05" y="128.04" width="4.4" height="4.4"/><rect x="577.30" y="128.05" width="4.4" height="4.4"/><rect x="580.55" y="128.06" width="4.4" height="4.4"/><rect x="583.80" y="128.07" width="4.4" height="4.4"/><rect x="587.05" y="128.07" width="4.4" height="4.4"/><rect x="590.30" y="128.08" width="4.4" height="4.4"/><rect x="593.55" y="128.09" width="4.4" height="4.4"/><rect x="596.80" y="128.10" width="4.4" height="4.4"/><rect x="600.05" y="128.09" width="4.4" height="4.4"/><rect x="603.30" y="128.07" width="4.4" height="4.4"/><rect x="606.55" y="128.05" width="4.4" height="4.4"/><rect x="609.80" y="128.03" width="4.4" height="4.4"/><rect x="613.05" y="128.02" width="4.4" height="4.4"/><rect x="616.30" y="128.00" width="4.4" height="4.4"/><rect x="619.55" y="127.98" width="4.4" height="4.4"/><rect x="622.80" y="127.96" width="4.4" height="4.4"/><rect x="626.05" y="127.95" width="4.4" height="4.4"/><rect x="629.30" y="127.93" width="4.4" height="4.4"/><rect x="632.55" y="127.91" width="4.4" height="4.4"/><rect x="635.80" y="127.89" width="4.4" height="4.4"/><rect x="639.05" y="127.87" width="4.4" height="4.4"/><rect x="642.30" y="127.86" width="4.4" height="4.4"/><rect x="645.55" y="127.84" width="4.4" height="4.4"/><rect x="648.80" y="127.82" width="4.4" height="4.4"/><rect x="652.05" y="127.80" width="4.4" height="4.4"/></g>
<g fill="#fb7a36"><rect x="461.75" y="136.95" width="4.5" height="4.5"/><rect x="464.95" y="136.85" width="4.5" height="4.5"/><rect x="468.15" y="136.65" width="4.5" height="4.5"/><rect x="471.35" y="146.25" width="4.5" height="4.5"/><rect x="474.55" y="206.05" width="4.5" height="4.5"/><rect x="477.75" y="220.85" width="4.5" height="4.5"/><rect x="480.95" y="231.15" width="4.5" height="4.5"/><rect x="484.15" y="237.05" width="4.5" height="4.5"/><rect x="487.35" y="240.95" width="4.5" height="4.5"/><rect x="490.55" y="243.75" width="4.5" height="4.5"/><rect x="493.75" y="245.85" width="4.5" height="4.5"/><rect x="496.95" y="247.25" width="4.5" height="4.5"/><rect x="500.15" y="248.25" width="4.5" height="4.5"/><rect x="503.35" y="248.95" width="4.5" height="4.5"/><rect x="506.55" y="249.55" width="4.5" height="4.5"/><rect x="509.75" y="249.85" width="4.5" height="4.5"/><rect x="512.95" y="250.05" width="4.5" height="4.5"/><rect x="516.15" y="250.05" width="4.5" height="4.5"/><rect x="519.35" y="250.05" width="4.5" height="4.5"/><rect x="522.55" y="249.95" width="4.5" height="4.5"/><rect x="525.75" y="249.75" width="4.5" height="4.5"/><rect x="528.95" y="249.55" width="4.5" height="4.5"/><rect x="532.15" y="249.25" width="4.5" height="4.5"/><rect x="535.35" y="248.95" width="4.5" height="4.5"/><rect x="538.55" y="248.45" width="4.5" height="4.5"/><rect x="541.75" y="247.85" width="4.5" height="4.5"/><rect x="544.95" y="246.95" width="4.5" height="4.5"/><rect x="548.15" y="242.95" width="4.5" height="4.5"/><rect x="551.35" y="234.35" width="4.5" height="4.5"/><rect x="554.55" y="226.15" width="4.5" height="4.5"/><rect x="557.75" y="217.45" width="4.5" height="4.5"/><rect x="560.95" y="210.95" width="4.5" height="4.5"/><rect x="564.15" y="206.95" width="4.5" height="4.5"/><rect x="567.35" y="202.95" width="4.5" height="4.5"/><rect x="570.55" y="199.65" width="4.5" height="4.5"/><rect x="573.75" y="196.45" width="4.5" height="4.5"/><rect x="576.95" y="194.35" width="4.5" height="4.5"/><rect x="580.15" y="193.45" width="4.5" height="4.5"/><rect x="583.35" y="192.45" width="4.5" height="4.5"/><rect x="586.55" y="191.55" width="4.5" height="4.5"/><rect x="589.75" y="190.35" width="4.5" height="4.5"/><rect x="592.95" y="189.55" width="4.5" height="4.5"/><rect x="596.15" y="188.55" width="4.5" height="4.5"/><rect x="599.35" y="187.55" width="4.5" height="4.5"/><rect x="602.55" y="186.75" width="4.5" height="4.5"/><rect x="605.75" y="185.85" width="4.5" height="4.5"/><rect x="608.95" y="184.85" width="4.5" height="4.5"/><rect x="612.15" y="197.05" width="4.5" height="4.5"/><rect x="615.35" y="206.85" width="4.5" height="4.5"/><rect x="618.55" y="210.95" width="4.5" height="4.5"/><rect x="621.75" y="213.75" width="4.5" height="4.5"/><rect x="624.95" y="216.05" width="4.5" height="4.5"/><rect x="628.15" y="217.65" width="4.5" height="4.5"/><rect x="631.35" y="218.25" width="4.5" height="4.5"/><rect x="634.55" y="216.75" width="4.5" height="4.5"/><rect x="637.75" y="217.65" width="4.5" height="4.5"/><rect x="640.95" y="218.55" width="4.5" height="4.5"/><rect x="644.15" y="219.15" width="4.5" height="4.5"/><rect x="647.35" y="219.45" width="4.5" height="4.5"/><rect x="650.55" y="219.95" width="4.5" height="4.5"/><rect x="653.75" y="220.15" width="4.5" height="4.5"/></g>
<rect x="591.6" y="143.3" width="81.1" height="33.6" fill="#fff" stroke="#000" stroke-width="1.3"/>
<line x1="597.10" y1="154.60" x2="614.90" y2="154.60" stroke="#f07a1e" stroke-width="1.1"/>
<circle cx="605.8" cy="154.6" r="3.8" fill="#f07a1e"/>
<line x1="597.10" y1="165.30" x2="614.90" y2="165.30" stroke="#b0aead" stroke-width="1.1"/>
<circle cx="605.8" cy="165.3" r="3.8" fill="#b0aead"/>
<text x="618.6" y="159.4" font-size="13.1">-100 mV</text>
<text x="618.6" y="171.8" font-size="13.1">+ 40 mV</text>
<path d="M458.20,305.80 V448.60 H670.80" fill="none" stroke="#000" stroke-width="1.25"/>
<line x1="458.20" y1="306.20" x2="462.40" y2="306.20" stroke="#000" stroke-width="1.2"/>
<text x="455.6" y="310.0" font-size="10.4" text-anchor="end" fill="#1a1a1a">1</text>
<line x1="458.20" y1="341.10" x2="462.40" y2="341.10" stroke="#000" stroke-width="1.2"/>
<text x="455.6" y="344.9" font-size="10.4" text-anchor="end" fill="#1a1a1a">0</text>
<line x1="458.20" y1="376.00" x2="462.40" y2="376.00" stroke="#000" stroke-width="1.2"/>
<text x="455.6" y="379.8" font-size="10.4" text-anchor="end" fill="#1a1a1a">-1</text>
<line x1="458.20" y1="410.90" x2="462.40" y2="410.90" stroke="#000" stroke-width="1.2"/>
<text x="455.6" y="414.7" font-size="10.4" text-anchor="end" fill="#1a1a1a">-2</text>
<line x1="458.20" y1="445.80" x2="462.40" y2="445.80" stroke="#000" stroke-width="1.2"/>
<text x="455.6" y="449.6" font-size="10.4" text-anchor="end" fill="#1a1a1a">-3</text>
<line x1="461.10" y1="448.60" x2="461.10" y2="444.00" stroke="#000" stroke-width="1.2"/>
<text x="461.1" y="462.4" font-size="10.4" text-anchor="middle" fill="#1a1a1a">150</text>
<line x1="502.94" y1="448.60" x2="502.94" y2="444.00" stroke="#000" stroke-width="1.2"/>
<text x="502.9" y="462.4" font-size="10.4" text-anchor="middle" fill="#1a1a1a">200</text>
<line x1="544.78" y1="448.60" x2="544.78" y2="444.00" stroke="#000" stroke-width="1.2"/>
<text x="544.8" y="462.4" font-size="10.4" text-anchor="middle" fill="#1a1a1a">250</text>
<line x1="586.62" y1="448.60" x2="586.62" y2="444.00" stroke="#000" stroke-width="1.2"/>
<text x="586.6" y="462.4" font-size="10.4" text-anchor="middle" fill="#1a1a1a">300</text>
<line x1="628.46" y1="448.60" x2="628.46" y2="444.00" stroke="#000" stroke-width="1.2"/>
<text x="628.5" y="462.4" font-size="10.4" text-anchor="middle" fill="#1a1a1a">350</text>
<line x1="670.30" y1="448.60" x2="670.30" y2="444.00" stroke="#000" stroke-width="1.2"/>
<text x="670.3" y="462.4" font-size="10.4" text-anchor="middle" fill="#1a1a1a">400</text>
<text x="0" y="0" font-size="10.7" text-anchor="middle" fill="#1a1a1a" transform="translate(436.2,370.5) rotate(-90)">Current Amplitude (µA)</text>
<text x="564.8" y="475.0" font-size="10.6" text-anchor="middle" fill="#222">Time (s)</text>
<text x="459.0" y="317.0" font-size="12.85" font-weight="bold">ND96</text>
<line x1="458.20" y1="319.30" x2="474.00" y2="319.30" stroke="#000" stroke-width="2.5"/>
<text x="523.2" y="314.7" font-size="12.85" font-weight="bold">BD 100 µM</text>
<line x1="516.80" y1="319.00" x2="593.50" y2="319.00" stroke="#000" stroke-width="2.5"/>
<g fill="#686868"><rect x="458.30" y="333.01" width="4.4" height="4.4"/><rect x="462.50" y="333.09" width="4.4" height="4.4"/><rect x="466.70" y="333.18" width="4.4" height="4.4"/><rect x="470.90" y="334.13" width="4.4" height="4.4"/><rect x="475.10" y="333.08" width="4.4" height="4.4"/><rect x="479.30" y="331.05" width="4.4" height="4.4"/><rect x="483.50" y="329.78" width="4.4" height="4.4"/><rect x="487.70" y="328.63" width="4.4" height="4.4"/><rect x="491.90" y="327.94" width="4.4" height="4.4"/><rect x="496.10" y="327.27" width="4.4" height="4.4"/><rect x="500.30" y="326.70" width="4.4" height="4.4"/><rect x="504.50" y="326.20" width="4.4" height="4.4"/><rect x="508.70" y="325.73" width="4.4" height="4.4"/><rect x="512.90" y="325.39" width="4.4" height="4.4"/><rect x="517.10" y="325.06" width="4.4" height="4.4"/><rect x="521.30" y="324.73" width="4.4" height="4.4"/><rect x="525.50" y="324.40" width="4.4" height="4.4"/><rect x="529.70" y="324.50" width="4.4" height="4.4"/><rect x="533.90" y="324.59" width="4.4" height="4.4"/><rect x="538.10" y="324.68" width="4.4" height="4.4"/><rect x="542.30" y="324.78" width="4.4" height="4.4"/><rect x="546.50" y="324.87" width="4.4" height="4.4"/><rect x="550.70" y="325.23" width="4.4" height="4.4"/><rect x="554.90" y="325.70" width="4.4" height="4.4"/><rect x="559.10" y="326.18" width="4.4" height="4.4"/><rect x="563.30" y="326.63" width="4.4" height="4.4"/><rect x="567.50" y="326.85" width="4.4" height="4.4"/><rect x="571.70" y="327.07" width="4.4" height="4.4"/><rect x="575.90" y="327.30" width="4.4" height="4.4"/><rect x="580.10" y="327.26" width="4.4" height="4.4"/><rect x="584.30" y="327.01" width="4.4" height="4.4"/><rect x="588.50" y="326.72" width="4.4" height="4.4"/><rect x="592.70" y="326.21" width="4.4" height="4.4"/><rect x="596.90" y="325.71" width="4.4" height="4.4"/><rect x="601.10" y="325.48" width="4.4" height="4.4"/><rect x="605.30" y="325.34" width="4.4" height="4.4"/><rect x="609.50" y="325.19" width="4.4" height="4.4"/><rect x="613.70" y="325.04" width="4.4" height="4.4"/><rect x="617.90" y="324.90" width="4.4" height="4.4"/><rect x="622.10" y="324.90" width="4.4" height="4.4"/><rect x="626.30" y="324.90" width="4.4" height="4.4"/><rect x="630.50" y="324.90" width="4.4" height="4.4"/><rect x="634.70" y="324.90" width="4.4" height="4.4"/><rect x="638.90" y="324.90" width="4.4" height="4.4"/><rect x="643.10" y="324.90" width="4.4" height="4.4"/><rect x="647.30" y="324.90" width="4.4" height="4.4"/><rect x="651.50" y="324.90" width="4.4" height="4.4"/><rect x="655.70" y="324.90" width="4.4" height="4.4"/><rect x="659.90" y="324.90" width="4.4" height="4.4"/><rect x="664.10" y="324.90" width="4.4" height="4.4"/></g>
<g fill="#fb7a36"><rect x="459.15" y="343.65" width="4.5" height="4.5"/><rect x="463.35" y="343.35" width="4.5" height="4.5"/><rect x="467.55" y="342.75" width="4.5" height="4.5"/><rect x="471.75" y="349.55" width="4.5" height="4.5"/><rect x="475.95" y="371.15" width="4.5" height="4.5"/><rect x="480.15" y="379.75" width="4.5" height="4.5"/><rect x="484.35" y="385.55" width="4.5" height="4.5"/><rect x="488.55" y="390.25" width="4.5" height="4.5"/><rect x="492.75" y="393.75" width="4.5" height="4.5"/><rect x="496.95" y="396.85" width="4.5" height="4.5"/><rect x="501.15" y="399.65" width="4.5" height="4.5"/><rect x="505.35" y="401.85" width="4.5" height="4.5"/><rect x="509.55" y="403.75" width="4.5" height="4.5"/><rect x="513.75" y="405.15" width="4.5" height="4.5"/><rect x="517.95" y="406.15" width="4.5" height="4.5"/><rect x="522.15" y="408.85" width="4.5" height="4.5"/><rect x="526.35" y="408.05" width="4.5" height="4.5"/><rect x="530.55" y="406.65" width="4.5" height="4.5"/><rect x="534.75" y="404.35" width="4.5" height="4.5"/><rect x="538.95" y="400.85" width="4.5" height="4.5"/><rect x="543.15" y="397.85" width="4.5" height="4.5"/><rect x="547.35" y="394.05" width="4.5" height="4.5"/><rect x="551.55" y="390.55" width="4.5" height="4.5"/><rect x="555.75" y="387.55" width="4.5" height="4.5"/><rect x="559.95" y="384.55" width="4.5" height="4.5"/><rect x="564.15" y="382.05" width="4.5" height="4.5"/><rect x="568.35" y="380.05" width="4.5" height="4.5"/><rect x="572.55" y="378.15" width="4.5" height="4.5"/><rect x="576.75" y="376.55" width="4.5" height="4.5"/><rect x="580.95" y="375.55" width="4.5" height="4.5"/><rect x="585.15" y="375.15" width="4.5" height="4.5"/><rect x="589.35" y="375.55" width="4.5" height="4.5"/><rect x="593.55" y="377.05" width="4.5" height="4.5"/><rect x="597.75" y="390.85" width="4.5" height="4.5"/><rect x="601.95" y="395.95" width="4.5" height="4.5"/><rect x="606.15" y="399.55" width="4.5" height="4.5"/><rect x="610.35" y="402.05" width="4.5" height="4.5"/><rect x="614.55" y="403.65" width="4.5" height="4.5"/><rect x="618.75" y="404.75" width="4.5" height="4.5"/><rect x="622.95" y="405.75" width="4.5" height="4.5"/><rect x="627.15" y="406.55" width="4.5" height="4.5"/><rect x="631.35" y="407.25" width="4.5" height="4.5"/><rect x="635.55" y="408.05" width="4.5" height="4.5"/><rect x="639.75" y="408.55" width="4.5" height="4.5"/><rect x="643.95" y="409.05" width="4.5" height="4.5"/><rect x="648.15" y="409.55" width="4.5" height="4.5"/><rect x="652.35" y="409.95" width="4.5" height="4.5"/><rect x="656.55" y="410.25" width="4.5" height="4.5"/><rect x="660.75" y="410.35" width="4.5" height="4.5"/><rect x="664.95" y="410.55" width="4.5" height="4.5"/></g>
<rect x="608.3" y="348.0" width="78.0" height="35.4" fill="#fff" stroke="#000" stroke-width="1.3"/>
<line x1="611.60" y1="359.40" x2="627.30" y2="359.40" stroke="#f07a1e" stroke-width="1.1"/>
<circle cx="619.7" cy="359.4" r="3.8" fill="#f07a1e"/>
<line x1="611.60" y1="370.10" x2="627.30" y2="370.10" stroke="#b0aead" stroke-width="1.1"/>
<circle cx="619.7" cy="370.1" r="3.8" fill="#b0aead"/>
<text x="633.0" y="363.9" font-size="13.1">-100 mV</text>
<text x="633.0" y="376.6" font-size="13.1">+ 40 mV</text>
<path d="M458.90,481.30 V629.00 H678.80" fill="none" stroke="#000" stroke-width="1.25"/>
<line x1="458.90" y1="481.55" x2="463.10" y2="481.55" stroke="#000" stroke-width="1.2"/>
<text x="456.3" y="485.4" font-size="10.4" text-anchor="end" fill="#1a1a1a">1</text>
<line x1="458.90" y1="510.50" x2="463.10" y2="510.50" stroke="#000" stroke-width="1.2"/>
<text x="456.3" y="514.3" font-size="10.4" text-anchor="end" fill="#1a1a1a">0</text>
<line x1="458.90" y1="539.45" x2="463.10" y2="539.45" stroke="#000" stroke-width="1.2"/>
<text x="456.3" y="543.2" font-size="10.4" text-anchor="end" fill="#1a1a1a">-1</text>
<line x1="458.90" y1="568.40" x2="463.10" y2="568.40" stroke="#000" stroke-width="1.2"/>
<text x="456.3" y="572.2" font-size="10.4" text-anchor="end" fill="#1a1a1a">-2</text>
<line x1="458.90" y1="597.35" x2="463.10" y2="597.35" stroke="#000" stroke-width="1.2"/>
<text x="456.3" y="601.1" font-size="10.4" text-anchor="end" fill="#1a1a1a">-3</text>
<line x1="458.90" y1="626.30" x2="463.10" y2="626.30" stroke="#000" stroke-width="1.2"/>
<text x="456.3" y="630.1" font-size="10.4" text-anchor="end" fill="#1a1a1a">-4</text>
<line x1="475.80" y1="629.00" x2="475.80" y2="624.40" stroke="#000" stroke-width="1.2"/>
<text x="475.8" y="642.8" font-size="10.4" text-anchor="middle" fill="#1a1a1a">200</text>
<line x1="509.55" y1="629.00" x2="509.55" y2="624.40" stroke="#000" stroke-width="1.2"/>
<text x="509.6" y="642.8" font-size="10.4" text-anchor="middle" fill="#1a1a1a">250</text>
<line x1="543.30" y1="629.00" x2="543.30" y2="624.40" stroke="#000" stroke-width="1.2"/>
<text x="543.3" y="642.8" font-size="10.4" text-anchor="middle" fill="#1a1a1a">300</text>
<line x1="577.05" y1="629.00" x2="577.05" y2="624.40" stroke="#000" stroke-width="1.2"/>
<text x="577.0" y="642.8" font-size="10.4" text-anchor="middle" fill="#1a1a1a">350</text>
<line x1="610.80" y1="629.00" x2="610.80" y2="624.40" stroke="#000" stroke-width="1.2"/>
<text x="610.8" y="642.8" font-size="10.4" text-anchor="middle" fill="#1a1a1a">400</text>
<line x1="644.55" y1="629.00" x2="644.55" y2="624.40" stroke="#000" stroke-width="1.2"/>
<text x="644.5" y="642.8" font-size="10.4" text-anchor="middle" fill="#1a1a1a">450</text>
<line x1="678.30" y1="629.00" x2="678.30" y2="624.40" stroke="#000" stroke-width="1.2"/>
<text x="678.3" y="642.8" font-size="10.4" text-anchor="middle" fill="#1a1a1a">500</text>
<text x="0" y="0" font-size="11.1" text-anchor="middle" fill="#1a1a1a" transform="translate(440.1,548.6) rotate(-90)">Current Amplitude (µA)</text>
<text x="569.7" y="656.3" font-size="10.6" text-anchor="middle" fill="#222">Time (s)</text>
<text x="459.6" y="494.7" font-size="12.85" font-weight="bold">ND96</text>
<line x1="458.90" y1="497.50" x2="480.30" y2="497.50" stroke="#000" stroke-width="2.5"/>
<text x="569.6" y="491.2" font-size="12.85" font-weight="bold">BD 100 µM</text>
<line x1="564.10" y1="495.00" x2="639.50" y2="495.00" stroke="#000" stroke-width="2.5"/>
<g fill="#686868"><rect x="458.30" y="504.92" width="4.4" height="4.4"/><rect x="461.75" y="505.06" width="4.4" height="4.4"/><rect x="465.20" y="505.20" width="4.4" height="4.4"/><rect x="468.65" y="505.36" width="4.4" height="4.4"/><rect x="472.10" y="505.60" width="4.4" height="4.4"/><rect x="475.55" y="505.84" width="4.4" height="4.4"/><rect x="479.00" y="505.47" width="4.4" height="4.4"/><rect x="482.45" y="503.95" width="4.4" height="4.4"/><rect x="485.90" y="503.03" width="4.4" height="4.4"/><rect x="489.35" y="502.16" width="4.4" height="4.4"/><rect x="492.80" y="501.30" width="4.4" height="4.4"/><rect x="496.25" y="500.84" width="4.4" height="4.4"/><rect x="499.70" y="500.38" width="4.4" height="4.4"/><rect x="503.15" y="499.92" width="4.4" height="4.4"/><rect x="506.60" y="499.46" width="4.4" height="4.4"/><rect x="510.05" y="499.19" width="4.4" height="4.4"/><rect x="513.50" y="499.02" width="4.4" height="4.4"/><rect x="516.95" y="498.84" width="4.4" height="4.4"/><rect x="520.40" y="498.67" width="4.4" height="4.4"/><rect x="523.85" y="498.50" width="4.4" height="4.4"/><rect x="527.30" y="498.32" width="4.4" height="4.4"/><rect x="530.75" y="498.29" width="4.4" height="4.4"/><rect x="534.20" y="498.28" width="4.4" height="4.4"/><rect x="537.65" y="498.27" width="4.4" height="4.4"/><rect x="541.10" y="498.26" width="4.4" height="4.4"/><rect x="544.55" y="498.24" width="4.4" height="4.4"/><rect x="548.00" y="498.23" width="4.4" height="4.4"/><rect x="551.45" y="498.22" width="4.4" height="4.4"/><rect x="554.90" y="498.21" width="4.4" height="4.4"/><rect x="558.35" y="498.22" width="4.4" height="4.4"/><rect x="561.80" y="498.32" width="4.4" height="4.4"/><rect x="565.25" y="498.42" width="4.4" height="4.4"/><rect x="568.70" y="498.53" width="4.4" height="4.4"/><rect x="572.15" y="498.63" width="4.4" height="4.4"/><rect x="575.60" y="498.73" width="4.4" height="4.4"/><rect x="579.05" y="498.86" width="4.4" height="4.4"/><rect x="582.50" y="499.04" width="4.4" height="4.4"/><rect x="585.95" y="499.21" width="4.4" height="4.4"/><rect x="589.40" y="499.38" width="4.4" height="4.4"/><rect x="592.85" y="499.55" width="4.4" height="4.4"/><rect x="596.30" y="499.73" width="4.4" height="4.4"/><rect x="599.75" y="499.82" width="4.4" height="4.4"/><rect x="603.20" y="499.85" width="4.4" height="4.4"/><rect x="606.65" y="499.89" width="4.4" height="4.4"/><rect x="610.10" y="499.92" width="4.4" height="4.4"/><rect x="613.55" y="499.96" width="4.4" height="4.4"/><rect x="617.00" y="499.99" width="4.4" height="4.4"/><rect x="620.45" y="499.91" width="4.4" height="4.4"/><rect x="623.90" y="499.79" width="4.4" height="4.4"/><rect x="627.35" y="499.67" width="4.4" height="4.4"/><rect x="630.80" y="499.54" width="4.4" height="4.4"/><rect x="634.25" y="499.42" width="4.4" height="4.4"/><rect x="637.70" y="499.30" width="4.4" height="4.4"/><rect x="641.15" y="499.34" width="4.4" height="4.4"/><rect x="644.60" y="499.37" width="4.4" height="4.4"/><rect x="648.05" y="499.41" width="4.4" height="4.4"/><rect x="651.50" y="499.45" width="4.4" height="4.4"/><rect x="654.95" y="499.48" width="4.4" height="4.4"/><rect x="658.40" y="499.52" width="4.4" height="4.4"/><rect x="661.85" y="499.56" width="4.4" height="4.4"/><rect x="665.30" y="499.59" width="4.4" height="4.4"/><rect x="668.75" y="499.63" width="4.4" height="4.4"/><rect x="672.20" y="499.67" width="4.4" height="4.4"/></g>
<g fill="#fb7a36"><rect x="459.75" y="517.34" width="4.5" height="4.5"/><rect x="463.20" y="516.62" width="4.5" height="4.5"/><rect x="466.65" y="515.91" width="4.5" height="4.5"/><rect x="470.10" y="515.19" width="4.5" height="4.5"/><rect x="473.55" y="514.47" width="4.5" height="4.5"/><rect x="477.00" y="513.75" width="4.5" height="4.5"/><rect x="480.45" y="526.05" width="4.5" height="4.5"/><rect x="483.90" y="557.25" width="4.5" height="4.5"/><rect x="487.35" y="565.65" width="4.5" height="4.5"/><rect x="490.80" y="574.96" width="4.5" height="4.5"/><rect x="494.25" y="581.61" width="4.5" height="4.5"/><rect x="497.70" y="586.18" width="4.5" height="4.5"/><rect x="501.15" y="589.31" width="4.5" height="4.5"/><rect x="504.60" y="591.86" width="4.5" height="4.5"/><rect x="508.05" y="593.87" width="4.5" height="4.5"/><rect x="511.50" y="595.25" width="4.5" height="4.5"/><rect x="514.95" y="596.28" width="4.5" height="4.5"/><rect x="518.40" y="597.01" width="4.5" height="4.5"/><rect x="521.85" y="597.32" width="4.5" height="4.5"/><rect x="525.30" y="597.63" width="4.5" height="4.5"/><rect x="528.75" y="597.79" width="4.5" height="4.5"/><rect x="532.20" y="597.58" width="4.5" height="4.5"/><rect x="535.65" y="597.38" width="4.5" height="4.5"/><rect x="539.10" y="597.02" width="4.5" height="4.5"/><rect x="542.55" y="596.43" width="4.5" height="4.5"/><rect x="546.00" y="595.85" width="4.5" height="4.5"/><rect x="549.45" y="595.69" width="4.5" height="4.5"/><rect x="552.90" y="595.98" width="4.5" height="4.5"/><rect x="556.35" y="595.57" width="4.5" height="4.5"/><rect x="559.80" y="594.21" width="4.5" height="4.5"/><rect x="563.25" y="592.82" width="4.5" height="4.5"/><rect x="566.70" y="591.25" width="4.5" height="4.5"/><rect x="570.15" y="589.20" width="4.5" height="4.5"/><rect x="573.60" y="585.82" width="4.5" height="4.5"/><rect x="577.05" y="580.47" width="4.5" height="4.5"/><rect x="580.50" y="576.45" width="4.5" height="4.5"/><rect x="583.95" y="573.53" width="4.5" height="4.5"/><rect x="587.40" y="570.72" width="4.5" height="4.5"/><rect x="590.85" y="567.94" width="4.5" height="4.5"/><rect x="594.30" y="564.87" width="4.5" height="4.5"/><rect x="597.75" y="562.14" width="4.5" height="4.5"/><rect x="601.20" y="559.52" width="4.5" height="4.5"/><rect x="604.65" y="557.16" width="4.5" height="4.5"/><rect x="608.10" y="555.40" width="4.5" height="4.5"/><rect x="611.55" y="554.03" width="4.5" height="4.5"/><rect x="615.00" y="552.64" width="4.5" height="4.5"/><rect x="618.45" y="551.84" width="4.5" height="4.5"/><rect x="621.90" y="551.65" width="4.5" height="4.5"/><rect x="625.35" y="551.65" width="4.5" height="4.5"/><rect x="628.80" y="551.65" width="4.5" height="4.5"/><rect x="632.25" y="551.65" width="4.5" height="4.5"/><rect x="635.70" y="551.65" width="4.5" height="4.5"/><rect x="639.15" y="551.65" width="4.5" height="4.5"/><rect x="642.60" y="558.95" width="4.5" height="4.5"/><rect x="646.05" y="576.05" width="4.5" height="4.5"/><rect x="649.50" y="581.95" width="4.5" height="4.5"/><rect x="652.95" y="586.75" width="4.5" height="4.5"/><rect x="656.40" y="590.15" width="4.5" height="4.5"/><rect x="659.85" y="592.55" width="4.5" height="4.5"/><rect x="663.30" y="593.95" width="4.5" height="4.5"/><rect x="666.75" y="594.75" width="4.5" height="4.5"/><rect x="670.20" y="595.20" width="4.5" height="4.5"/><rect x="673.65" y="595.65" width="4.5" height="4.5"/></g>
<rect x="605.3" y="510.0" width="84.0" height="36.1" fill="#fff" stroke="#000" stroke-width="1.3"/>
<line x1="610.70" y1="522.40" x2="629.60" y2="522.40" stroke="#f07a1e" stroke-width="1.1"/>
<circle cx="619.8" cy="522.4" r="3.8" fill="#f07a1e"/>
<line x1="610.70" y1="534.60" x2="629.60" y2="534.60" stroke="#b0aead" stroke-width="1.1"/>
<circle cx="619.8" cy="534.6" r="3.8" fill="#b0aead"/>
<text x="634.0" y="527.2" font-size="13.2">-100 mV</text>
<text x="634.0" y="539.7" font-size="13.2">+ 40 mV</text>
<path d="M456.00,678.60 V826.50 H686.60" fill="none" stroke="#000" stroke-width="1.25"/>
<line x1="456.00" y1="687.10" x2="460.20" y2="687.10" stroke="#000" stroke-width="1.2"/>
<text x="453.4" y="690.9" font-size="11.6" text-anchor="end" fill="#1a1a1a">0</text>
<line x1="456.00" y1="705.34" x2="460.20" y2="705.34" stroke="#000" stroke-width="1.2"/>
<line x1="456.00" y1="723.58" x2="460.20" y2="723.58" stroke="#000" stroke-width="1.2"/>
<text x="453.4" y="727.4" font-size="11.6" text-anchor="end" fill="#1a1a1a">-4</text>
<line x1="456.00" y1="741.82" x2="460.20" y2="741.82" stroke="#000" stroke-width="1.2"/>
<line x1="456.00" y1="760.06" x2="460.20" y2="760.06" stroke="#000" stroke-width="1.2"/>
<text x="453.4" y="763.9" font-size="11.6" text-anchor="end" fill="#1a1a1a">-8</text>
<line x1="456.00" y1="778.30" x2="460.20" y2="778.30" stroke="#000" stroke-width="1.2"/>
<line x1="456.00" y1="796.54" x2="460.20" y2="796.54" stroke="#000" stroke-width="1.2"/>
<text x="453.4" y="800.3" font-size="11.6" text-anchor="end" fill="#1a1a1a">-12</text>
<line x1="456.00" y1="814.78" x2="460.20" y2="814.78" stroke="#000" stroke-width="1.2"/>
<line x1="459.60" y1="826.50" x2="459.60" y2="821.90" stroke="#000" stroke-width="1.2"/>
<text x="459.6" y="840.9" font-size="11.6" text-anchor="middle" fill="#1a1a1a">150</text>
<line x1="504.90" y1="826.50" x2="504.90" y2="821.90" stroke="#000" stroke-width="1.2"/>
<text x="504.9" y="840.9" font-size="11.6" text-anchor="middle" fill="#1a1a1a">200</text>
<line x1="550.20" y1="826.50" x2="550.20" y2="821.90" stroke="#000" stroke-width="1.2"/>
<text x="550.2" y="840.9" font-size="11.6" text-anchor="middle" fill="#1a1a1a">250</text>
<line x1="595.50" y1="826.50" x2="595.50" y2="821.90" stroke="#000" stroke-width="1.2"/>
<text x="595.5" y="840.9" font-size="11.6" text-anchor="middle" fill="#1a1a1a">300</text>
<line x1="640.80" y1="826.50" x2="640.80" y2="821.90" stroke="#000" stroke-width="1.2"/>
<text x="640.8" y="840.9" font-size="11.6" text-anchor="middle" fill="#1a1a1a">350</text>
<line x1="686.10" y1="826.50" x2="686.10" y2="821.90" stroke="#000" stroke-width="1.2"/>
<text x="686.1" y="840.9" font-size="11.6" text-anchor="middle" fill="#1a1a1a">400</text>
<text x="0" y="0" font-size="11.15" text-anchor="middle" fill="#1a1a1a" transform="translate(432.0,745.4) rotate(-90)">Current Amplitude (µA)</text>
<text x="573.3" y="854.2" font-size="11.9" text-anchor="middle" fill="#222">Time (s)</text>
<text x="453.0" y="677.7" font-size="12.85" font-weight="bold">ND96</text>
<line x1="456.00" y1="681.10" x2="486.60" y2="681.10" stroke="#000" stroke-width="2.5"/>
<text x="561.2" y="674.4" font-size="12.85" font-weight="bold">BD 100 µM</text>
<line x1="552.30" y1="679.00" x2="635.80" y2="679.00" stroke="#000" stroke-width="2.5"/>
<g fill="#686868"><rect x="456.77" y="683.88" width="4.45" height="4.45"/><rect x="461.30" y="683.90" width="4.45" height="4.45"/><rect x="465.83" y="683.91" width="4.45" height="4.45"/><rect x="470.36" y="683.93" width="4.45" height="4.45"/><rect x="474.89" y="683.95" width="4.45" height="4.45"/><rect x="479.42" y="683.96" width="4.45" height="4.45"/><rect x="483.95" y="684.01" width="4.45" height="4.45"/><rect x="488.48" y="684.15" width="4.45" height="4.45"/><rect x="493.01" y="684.27" width="4.45" height="4.45"/><rect x="497.54" y="684.27" width="4.45" height="4.45"/><rect x="502.07" y="684.27" width="4.45" height="4.45"/><rect x="506.60" y="684.17" width="4.45" height="4.45"/><rect x="511.13" y="683.59" width="4.45" height="4.45"/><rect x="515.66" y="683.36" width="4.45" height="4.45"/><rect x="520.19" y="683.34" width="4.45" height="4.45"/><rect x="524.72" y="683.32" width="4.45" height="4.45"/><rect x="529.25" y="683.30" width="4.45" height="4.45"/><rect x="533.78" y="683.28" width="4.45" height="4.45"/><rect x="538.31" y="683.26" width="4.45" height="4.45"/><rect x="542.84" y="683.24" width="4.45" height="4.45"/><rect x="547.37" y="683.22" width="4.45" height="4.45"/><rect x="551.90" y="683.20" width="4.45" height="4.45"/><rect x="556.43" y="683.18" width="4.45" height="4.45"/><rect x="560.96" y="683.17" width="4.45" height="4.45"/><rect x="565.49" y="683.17" width="4.45" height="4.45"/><rect x="570.02" y="683.17" width="4.45" height="4.45"/><rect x="574.55" y="683.16" width="4.45" height="4.45"/><rect x="579.08" y="683.16" width="4.45" height="4.45"/><rect x="583.61" y="683.15" width="4.45" height="4.45"/><rect x="588.14" y="683.15" width="4.45" height="4.45"/><rect x="592.67" y="683.15" width="4.45" height="4.45"/><rect x="597.20" y="683.14" width="4.45" height="4.45"/><rect x="601.73" y="683.14" width="4.45" height="4.45"/><rect x="606.26" y="683.14" width="4.45" height="4.45"/><rect x="610.79" y="683.13" width="4.45" height="4.45"/><rect x="615.32" y="683.13" width="4.45" height="4.45"/><rect x="619.85" y="683.13" width="4.45" height="4.45"/><rect x="624.38" y="683.12" width="4.45" height="4.45"/><rect x="628.91" y="683.12" width="4.45" height="4.45"/><rect x="633.44" y="683.11" width="4.45" height="4.45"/><rect x="637.97" y="683.11" width="4.45" height="4.45"/><rect x="642.50" y="683.11" width="4.45" height="4.45"/><rect x="647.03" y="683.10" width="4.45" height="4.45"/><rect x="651.56" y="683.10" width="4.45" height="4.45"/><rect x="656.09" y="683.10" width="4.45" height="4.45"/><rect x="660.62" y="683.09" width="4.45" height="4.45"/><rect x="665.15" y="683.09" width="4.45" height="4.45"/><rect x="669.68" y="683.09" width="4.45" height="4.45"/><rect x="674.21" y="683.08" width="4.45" height="4.45"/><rect x="678.74" y="683.08" width="4.45" height="4.45"/></g>
<g fill="#fb7a36"><rect x="457.45" y="695.55" width="4.9" height="4.9"/><rect x="461.98" y="694.60" width="4.9" height="4.9"/><rect x="466.51" y="693.54" width="4.9" height="4.9"/><rect x="471.04" y="692.67" width="4.9" height="4.9"/><rect x="475.57" y="692.06" width="4.9" height="4.9"/><rect x="480.10" y="691.76" width="4.9" height="4.9"/><rect x="484.63" y="693.99" width="4.9" height="4.9"/><rect x="489.16" y="745.21" width="4.9" height="4.9"/><rect x="493.69" y="760.66" width="4.9" height="4.9"/><rect x="498.22" y="771.58" width="4.9" height="4.9"/><rect x="502.75" y="776.54" width="4.9" height="4.9"/><rect x="507.28" y="781.08" width="4.9" height="4.9"/><rect x="511.81" y="784.52" width="4.9" height="4.9"/><rect x="516.34" y="787.84" width="4.9" height="4.9"/><rect x="520.87" y="789.66" width="4.9" height="4.9"/><rect x="525.40" y="790.84" width="4.9" height="4.9"/><rect x="529.93" y="791.95" width="4.9" height="4.9"/><rect x="534.46" y="793.05" width="4.9" height="4.9"/><rect x="538.99" y="794.16" width="4.9" height="4.9"/><rect x="543.52" y="795.34" width="4.9" height="4.9"/><rect x="548.05" y="796.45" width="4.9" height="4.9"/><rect x="552.58" y="795.14" width="4.9" height="4.9"/><rect x="557.11" y="793.88" width="4.9" height="4.9"/><rect x="561.64" y="788.56" width="4.9" height="4.9"/><rect x="566.17" y="781.61" width="4.9" height="4.9"/><rect x="570.70" y="772.55" width="4.9" height="4.9"/><rect x="575.23" y="763.61" width="4.9" height="4.9"/><rect x="579.76" y="755.43" width="4.9" height="4.9"/><rect x="584.29" y="746.78" width="4.9" height="4.9"/><rect x="588.82" y="738.63" width="4.9" height="4.9"/><rect x="593.35" y="731.18" width="4.9" height="4.9"/><rect x="597.88" y="723.42" width="4.9" height="4.9"/><rect x="602.41" y="719.02" width="4.9" height="4.9"/><rect x="606.94" y="716.60" width="4.9" height="4.9"/><rect x="611.47" y="714.10" width="4.9" height="4.9"/><rect x="616.00" y="712.13" width="4.9" height="4.9"/><rect x="620.53" y="710.43" width="4.9" height="4.9"/><rect x="625.06" y="709.25" width="4.9" height="4.9"/><rect x="629.59" y="709.56" width="4.9" height="4.9"/><rect x="634.12" y="719.64" width="4.9" height="4.9"/><rect x="638.65" y="725.32" width="4.9" height="4.9"/><rect x="643.18" y="728.42" width="4.9" height="4.9"/><rect x="647.71" y="730.94" width="4.9" height="4.9"/><rect x="652.24" y="733.40" width="4.9" height="4.9"/><rect x="656.77" y="735.82" width="4.9" height="4.9"/><rect x="661.30" y="738.31" width="4.9" height="4.9"/><rect x="665.83" y="740.02" width="4.9" height="4.9"/><rect x="670.36" y="741.69" width="4.9" height="4.9"/><rect x="674.89" y="743.19" width="4.9" height="4.9"/><rect x="679.42" y="744.35" width="4.9" height="4.9"/></g>
<rect x="602.3" y="773.0" width="81.4" height="36.1" fill="#fff" stroke="#000" stroke-width="1.3"/>
<line x1="606.80" y1="785.00" x2="625.50" y2="785.00" stroke="#f07a1e" stroke-width="1.1"/>
<circle cx="616.1" cy="785.0" r="3.8" fill="#f07a1e"/>
<line x1="606.80" y1="797.60" x2="625.50" y2="797.60" stroke="#b0aead" stroke-width="1.1"/>
<circle cx="616.1" cy="797.6" r="3.8" fill="#b0aead"/>
<text x="630.4" y="789.5" font-size="13.2">-100 mV</text>
<text x="630.4" y="802.5" font-size="13.2">+ 40 mV</text>
<text x="2.2" y="878.6" font-size="22.6" font-weight="bold">F</text>
<text x="109.3" y="884.2" font-size="19.4" font-weight="bold">BD 1047</text>
<path d="M38.8,917.4 V1082.2 H273.7" fill="none" stroke="#000" stroke-width="1.7"/>
<line x1="38.80" y1="918.20" x2="43.80" y2="918.20" stroke="#000" stroke-width="1.6"/>
<text x="34.8" y="921.7" font-size="9.8" text-anchor="end" fill="#111">100</text>
<line x1="38.80" y1="949.22" x2="43.80" y2="949.22" stroke="#000" stroke-width="1.6"/>
<text x="34.8" y="952.7" font-size="9.8" text-anchor="end" fill="#111">80</text>
<line x1="38.80" y1="980.24" x2="43.80" y2="980.24" stroke="#000" stroke-width="1.6"/>
<text x="34.8" y="983.8" font-size="9.8" text-anchor="end" fill="#111">60</text>
<line x1="38.80" y1="1011.26" x2="43.80" y2="1011.26" stroke="#000" stroke-width="1.6"/>
<text x="34.8" y="1014.8" font-size="9.8" text-anchor="end" fill="#111">40</text>
<line x1="38.80" y1="1042.28" x2="43.80" y2="1042.28" stroke="#000" stroke-width="1.6"/>
<text x="34.8" y="1045.8" font-size="9.8" text-anchor="end" fill="#111">20</text>
<line x1="38.80" y1="1073.30" x2="43.80" y2="1073.30" stroke="#000" stroke-width="1.6"/>
<text x="34.8" y="1076.8" font-size="9.8" text-anchor="end" fill="#111">0</text>
<text x="0" y="0" font-size="17.7" text-anchor="middle" transform="translate(16.6,993.2) rotate(-90)">Inhibition %</text>
<path d="M81.4,907.2 V901.6 H245.1 V907.2" fill="none" stroke="#000" stroke-width="2.0"/>
<path d="M134.1,919.3 V915.3 H245.1 V919.3" fill="none" stroke="#000" stroke-width="2.0"/>
<path d="M189.2,932.1 V927.9 H245.1 V932.1" fill="none" stroke="#000" stroke-width="2.0"/>
<path d="M80.8,976.9 V972.3 H135.8 V976.9" fill="none" stroke="#000" stroke-width="2.0"/>
<path d="M150.00,895.60 L150.00,892.40 M150.00,895.60 L153.04,894.61 M150.00,895.60 L151.88,898.19 M150.00,895.60 L148.12,898.19 M150.00,895.60 L146.96,894.61 " stroke="#000" stroke-width="1.75" stroke-linecap="round" fill="none"/>
<circle cx="150.00" cy="895.60" r="1.3" fill="#000"/>
<path d="M159.00,895.60 L159.00,892.40 M159.00,895.60 L162.04,894.61 M159.00,895.60 L160.88,898.19 M159.00,895.60 L157.12,898.19 M159.00,895.60 L155.96,894.61 " stroke="#000" stroke-width="1.75" stroke-linecap="round" fill="none"/>
<circle cx="159.00" cy="895.60" r="1.3" fill="#000"/>
<path d="M184.40,909.70 L184.40,906.50 M184.40,909.70 L187.44,908.71 M184.40,909.70 L186.28,912.29 M184.40,909.70 L182.52,912.29 M184.40,909.70 L181.36,908.71 " stroke="#000" stroke-width="1.75" stroke-linecap="round" fill="none"/>
<circle cx="184.40" cy="909.70" r="1.3" fill="#000"/>
<path d="M193.20,909.70 L193.20,906.50 M193.20,909.70 L196.24,908.71 M193.20,909.70 L195.08,912.29 M193.20,909.70 L191.32,912.29 M193.20,909.70 L190.16,908.71 " stroke="#000" stroke-width="1.75" stroke-linecap="round" fill="none"/>
<circle cx="193.20" cy="909.70" r="1.3" fill="#000"/>
<path d="M214.90,921.90 L214.90,918.70 M214.90,921.90 L217.94,920.91 M214.90,921.90 L216.78,924.49 M214.90,921.90 L213.02,924.49 M214.90,921.90 L211.86,920.91 " stroke="#000" stroke-width="1.75" stroke-linecap="round" fill="none"/>
<circle cx="214.90" cy="921.90" r="1.3" fill="#000"/>
<path d="M223.10,921.90 L223.10,918.70 M223.10,921.90 L226.14,920.91 M223.10,921.90 L224.98,924.49 M223.10,921.90 L221.22,924.49 M223.10,921.90 L220.06,920.91 " stroke="#000" stroke-width="1.75" stroke-linecap="round" fill="none"/>
<circle cx="223.10" cy="921.90" r="1.3" fill="#000"/>
<path d="M107.30,965.60 L107.30,962.40 M107.30,965.60 L110.34,964.61 M107.30,965.60 L109.18,968.19 M107.30,965.60 L105.42,968.19 M107.30,965.60 L104.26,964.61 " stroke="#000" stroke-width="1.75" stroke-linecap="round" fill="none"/>
<circle cx="107.30" cy="965.60" r="1.3" fill="#000"/>
<circle cx="82.2" cy="990.0" r="4.9" fill="none" stroke="#777777" stroke-width="1.6"/>
<circle cx="82.2" cy="993.0" r="4.9" fill="none" stroke="#777777" stroke-width="1.6"/>
<circle cx="82.2" cy="995.0" r="4.9" fill="none" stroke="#777777" stroke-width="1.6"/>
<circle cx="82.2" cy="996.5" r="4.9" fill="none" stroke="#777777" stroke-width="1.6"/>
<circle cx="82.2" cy="997.5" r="4.9" fill="none" stroke="#777777" stroke-width="1.6"/>
<line x1="82.20" y1="991.90" x2="82.20" y2="995.70" stroke="#000" stroke-width="1.8"/>
<line x1="78.70" y1="991.90" x2="85.70" y2="991.90" stroke="#000" stroke-width="1.8"/>
<line x1="78.70" y1="995.70" x2="85.70" y2="995.70" stroke="#000" stroke-width="1.8"/>
<line x1="74.70" y1="993.60" x2="89.70" y2="993.60" stroke="#000" stroke-width="2.6"/>
<circle cx="136.8" cy="1004.3" r="4.9" fill="none" stroke="#777777" stroke-width="1.6"/>
<circle cx="136.8" cy="1010.0" r="4.9" fill="none" stroke="#777777" stroke-width="1.6"/>
<circle cx="136.8" cy="1016.0" r="4.9" fill="none" stroke="#777777" stroke-width="1.6"/>
<circle cx="136.8" cy="1025.0" r="4.9" fill="none" stroke="#777777" stroke-width="1.6"/>
<line x1="136.80" y1="999.10" x2="136.80" y2="1030.50" stroke="#000" stroke-width="1.8"/>
<line x1="133.30" y1="999.10" x2="140.30" y2="999.10" stroke="#000" stroke-width="1.8"/>
<line x1="133.30" y1="1030.50" x2="140.30" y2="1030.50" stroke="#000" stroke-width="1.8"/>
<line x1="129.30" y1="1014.80" x2="144.30" y2="1014.80" stroke="#000" stroke-width="2.6"/>
<circle cx="191.6" cy="988.9" r="4.9" fill="none" stroke="#777777" stroke-width="1.6"/>
<circle cx="191.6" cy="998.0" r="4.9" fill="none" stroke="#777777" stroke-width="1.6"/>
<circle cx="191.6" cy="1002.0" r="4.9" fill="none" stroke="#777777" stroke-width="1.6"/>
<circle cx="191.6" cy="1006.4" r="4.9" fill="none" stroke="#777777" stroke-width="1.6"/>
<line x1="191.60" y1="992.50" x2="191.60" y2="1007.50" stroke="#000" stroke-width="1.8"/>
<line x1="188.10" y1="992.50" x2="195.10" y2="992.50" stroke="#000" stroke-width="1.8"/>
<line x1="188.10" y1="1007.50" x2="195.10" y2="1007.50" stroke="#000" stroke-width="1.8"/>
<line x1="184.10" y1="999.80" x2="199.10" y2="999.80" stroke="#000" stroke-width="2.6"/>
<circle cx="246.4" cy="940.6" r="4.9" fill="none" stroke="#777777" stroke-width="1.6"/>
<circle cx="246.4" cy="945.7" r="4.9" fill="none" stroke="#777777" stroke-width="1.6"/>
<circle cx="246.4" cy="950.0" r="4.9" fill="none" stroke="#777777" stroke-width="1.6"/>
<circle cx="246.4" cy="954.0" r="4.9" fill="none" stroke="#777777" stroke-width="1.6"/>
<circle cx="246.4" cy="958.0" r="4.9" fill="none" stroke="#777777" stroke-width="1.6"/>
<line x1="246.40" y1="942.60" x2="246.40" y2="955.60" stroke="#000" stroke-width="1.8"/>
<line x1="242.90" y1="942.60" x2="249.90" y2="942.60" stroke="#000" stroke-width="1.8"/>
<line x1="242.90" y1="955.60" x2="249.90" y2="955.60" stroke="#000" stroke-width="1.8"/>
<line x1="238.90" y1="949.10" x2="253.90" y2="949.10" stroke="#000" stroke-width="2.6"/>
<text x="78.5" y="1097.3" font-size="12.3" text-anchor="middle">GIRK1/2</text>
<text x="136.6" y="1098.4" font-size="12.3" text-anchor="middle">GIRK2</text>
<text x="192.8" y="1097.3" font-size="12.3" text-anchor="middle">GIRK1/4</text>
<text x="228.6" y="1097.7" font-size="12.3">GIRK4+G<tspan font-size="8.6" dy="4.0" fill="#666" font-style="italic">βγ</tspan></text>
<text x="263.6" y="878.1" font-size="23.0" font-weight="bold">G</text>
<text x="376.6" y="887.1" font-size="19.4" font-weight="bold">BD 1047</text>
<path d="M302.8,920.1 V1081.4 H538.9" fill="none" stroke="#000" stroke-width="1.7"/>
<line x1="302.80" y1="921.05" x2="307.80" y2="921.05" stroke="#000" stroke-width="1.6"/>
<text x="298.8" y="924.6" font-size="9.8" text-anchor="end" fill="#111">100</text>
<line x1="302.80" y1="951.30" x2="307.80" y2="951.30" stroke="#000" stroke-width="1.6"/>
<text x="298.8" y="954.8" font-size="9.8" text-anchor="end" fill="#111">80</text>
<line x1="302.80" y1="981.55" x2="307.80" y2="981.55" stroke="#000" stroke-width="1.6"/>
<text x="298.8" y="985.1" font-size="9.8" text-anchor="end" fill="#111">60</text>
<line x1="302.80" y1="1011.80" x2="307.80" y2="1011.80" stroke="#000" stroke-width="1.6"/>
<text x="298.8" y="1015.3" font-size="9.8" text-anchor="end" fill="#111">40</text>
<line x1="302.80" y1="1042.05" x2="307.80" y2="1042.05" stroke="#000" stroke-width="1.6"/>
<text x="298.8" y="1045.6" font-size="9.8" text-anchor="end" fill="#111">20</text>
<line x1="302.80" y1="1072.30" x2="307.80" y2="1072.30" stroke="#000" stroke-width="1.6"/>
<text x="298.8" y="1075.8" font-size="9.8" text-anchor="end" fill="#111">0</text>
<text x="0" y="0" font-size="17.7" text-anchor="middle" transform="translate(277.0,992.7) rotate(-90)">Inhibition %</text>
<path d="M347.4,916.4 V911.5 H511.2 V916.4" fill="none" stroke="#000" stroke-width="2.0"/>
<path d="M399.7,928.8 V925.2 H511.2 V928.8" fill="none" stroke="#000" stroke-width="2.0"/>
<path d="M455.4,941.2 V937.5 H511.2 V941.2" fill="none" stroke="#000" stroke-width="2.0"/>
<path d="M346.6,985.6 V981.4 H402.1 V985.6" fill="none" stroke="#000" stroke-width="2.0"/>
<path d="M416.30,905.20 L416.30,902.00 M416.30,905.20 L419.34,904.21 M416.30,905.20 L418.18,907.79 M416.30,905.20 L414.42,907.79 M416.30,905.20 L413.26,904.21 " stroke="#000" stroke-width="1.75" stroke-linecap="round" fill="none"/>
<circle cx="416.30" cy="905.20" r="1.3" fill="#000"/>
<path d="M424.50,905.20 L424.50,902.00 M424.50,905.20 L427.54,904.21 M424.50,905.20 L426.38,907.79 M424.50,905.20 L422.62,907.79 M424.50,905.20 L421.46,904.21 " stroke="#000" stroke-width="1.75" stroke-linecap="round" fill="none"/>
<circle cx="424.50" cy="905.20" r="1.3" fill="#000"/>
<path d="M450.00,918.70 L450.00,915.50 M450.00,918.70 L453.04,917.71 M450.00,918.70 L451.88,921.29 M450.00,918.70 L448.12,921.29 M450.00,918.70 L446.96,917.71 " stroke="#000" stroke-width="1.75" stroke-linecap="round" fill="none"/>
<circle cx="450.00" cy="918.70" r="1.3" fill="#000"/>
<path d="M458.20,918.70 L458.20,915.50 M458.20,918.70 L461.24,917.71 M458.20,918.70 L460.08,921.29 M458.20,918.70 L456.32,921.29 M458.20,918.70 L455.16,917.71 " stroke="#000" stroke-width="1.75" stroke-linecap="round" fill="none"/>
<circle cx="458.20" cy="918.70" r="1.3" fill="#000"/>
<path d="M481.10,930.80 L481.10,927.60 M481.10,930.80 L484.14,929.81 M481.10,930.80 L482.98,933.39 M481.10,930.80 L479.22,933.39 M481.10,930.80 L478.06,929.81 " stroke="#000" stroke-width="1.75" stroke-linecap="round" fill="none"/>
<circle cx="481.10" cy="930.80" r="1.3" fill="#000"/>
<path d="M489.50,930.80 L489.50,927.60 M489.50,930.80 L492.54,929.81 M489.50,930.80 L491.38,933.39 M489.50,930.80 L487.62,933.39 M489.50,930.80 L486.46,929.81 " stroke="#000" stroke-width="1.75" stroke-linecap="round" fill="none"/>
<circle cx="489.50" cy="930.80" r="1.3" fill="#000"/>
<path d="M373.70,975.20 L373.70,972.00 M373.70,975.20 L376.74,974.21 M373.70,975.20 L375.58,977.79 M373.70,975.20 L371.82,977.79 M373.70,975.20 L370.66,974.21 " stroke="#000" stroke-width="1.75" stroke-linecap="round" fill="none"/>
<circle cx="373.70" cy="975.20" r="1.3" fill="#000"/>
<circle cx="346.4" cy="995.4" r="4.9" fill="none" stroke="#777777" stroke-width="1.6"/>
<circle cx="346.4" cy="1002.0" r="4.9" fill="none" stroke="#777777" stroke-width="1.6"/>
<circle cx="346.4" cy="1008.0" r="4.9" fill="none" stroke="#777777" stroke-width="1.6"/>
<circle cx="346.4" cy="1011.0" r="4.9" fill="none" stroke="#777777" stroke-width="1.6"/>
<circle cx="346.4" cy="1017.0" r="4.9" fill="none" stroke="#777777" stroke-width="1.6"/>
<line x1="346.40" y1="999.60" x2="346.40" y2="1015.00" stroke="#000" stroke-width="1.8"/>
<line x1="342.90" y1="999.60" x2="349.90" y2="999.60" stroke="#000" stroke-width="1.8"/>
<line x1="342.90" y1="1015.00" x2="349.90" y2="1015.00" stroke="#000" stroke-width="1.8"/>
<line x1="338.90" y1="1008.00" x2="353.90" y2="1008.00" stroke="#000" stroke-width="2.6"/>
<circle cx="401.0" cy="1007.4" r="4.9" fill="none" stroke="#777777" stroke-width="1.6"/>
<circle cx="401.0" cy="1024.5" r="4.9" fill="none" stroke="#777777" stroke-width="1.6"/>
<circle cx="401.0" cy="1030.5" r="4.9" fill="none" stroke="#777777" stroke-width="1.6"/>
<circle cx="401.0" cy="1033.5" r="4.9" fill="none" stroke="#777777" stroke-width="1.6"/>
<circle cx="401.0" cy="1046.4" r="4.9" fill="none" stroke="#777777" stroke-width="1.6"/>
<line x1="401.00" y1="1016.40" x2="401.00" y2="1041.00" stroke="#000" stroke-width="1.8"/>
<line x1="397.50" y1="1016.40" x2="404.50" y2="1016.40" stroke="#000" stroke-width="1.8"/>
<line x1="397.50" y1="1041.00" x2="404.50" y2="1041.00" stroke="#000" stroke-width="1.8"/>
<line x1="393.50" y1="1029.60" x2="408.50" y2="1029.60" stroke="#000" stroke-width="2.6"/>
<circle cx="456.0" cy="1014.0" r="4.9" fill="none" stroke="#777777" stroke-width="1.6"/>
<circle cx="456.0" cy="1017.0" r="4.9" fill="none" stroke="#777777" stroke-width="1.6"/>
<circle cx="456.0" cy="1033.0" r="4.9" fill="none" stroke="#777777" stroke-width="1.6"/>
<line x1="456.00" y1="1015.50" x2="456.00" y2="1026.60" stroke="#000" stroke-width="1.8"/>
<line x1="452.50" y1="1015.50" x2="459.50" y2="1015.50" stroke="#000" stroke-width="1.8"/>
<line x1="452.50" y1="1026.60" x2="459.50" y2="1026.60" stroke="#000" stroke-width="1.8"/>
<line x1="448.50" y1="1021.50" x2="463.50" y2="1021.50" stroke="#000" stroke-width="2.6"/>
<circle cx="510.6" cy="964.5" r="4.9" fill="none" stroke="#777777" stroke-width="1.6"/>
<circle cx="510.6" cy="973.5" r="4.9" fill="none" stroke="#777777" stroke-width="1.6"/>
<circle cx="510.6" cy="978.0" r="4.9" fill="none" stroke="#777777" stroke-width="1.6"/>
<circle cx="510.6" cy="982.5" r="4.9" fill="none" stroke="#777777" stroke-width="1.6"/>
<line x1="510.60" y1="969.60" x2="510.60" y2="978.60" stroke="#000" stroke-width="1.8"/>
<line x1="507.10" y1="969.60" x2="514.10" y2="969.60" stroke="#000" stroke-width="1.8"/>
<line x1="507.10" y1="978.60" x2="514.10" y2="978.60" stroke="#000" stroke-width="1.8"/>
<line x1="503.10" y1="974.40" x2="518.10" y2="974.40" stroke="#000" stroke-width="2.6"/>
<text x="345.8" y="1096.2" font-size="12.6" text-anchor="middle">GIRK1/2</text>
<text x="334.2" y="1110" font-size="12.6">+G<tspan font-size="8.0" dy="8.8" dx="-2.4" fill="#444">βγ</tspan></text>
<text x="400.3" y="1096.2" font-size="12.6" text-anchor="middle">GIRK2</text>
<text x="388.7" y="1110" font-size="12.6">+G<tspan font-size="8.0" dy="8.8" dx="-2.4" fill="#444">βγ</tspan></text>
<text x="458.1" y="1096.2" font-size="12.6" text-anchor="middle">GIRK1/4</text>
<text x="446.5" y="1110" font-size="12.6">+G<tspan font-size="8.0" dy="8.8" dx="-2.4" fill="#444">βγ</tspan></text>
<text x="513.9" y="1096.2" font-size="12.6" text-anchor="middle">GIRK4</text>
<text x="502.3" y="1110" font-size="12.6">+G<tspan font-size="8.0" dy="8.8" dx="-2.4" fill="#444">βγ</tspan></text>
<text x="521.6" y="879.0" font-size="22.0" font-weight="bold">H</text>
<text x="608.2" y="885.0" font-size="19.4" font-weight="bold">BD 1063</text>
<path d="M570.3,896.0 V1080.8 H717.0" fill="none" stroke="#000" stroke-width="1.7"/>
<line x1="570.30" y1="896.80" x2="575.30" y2="896.80" stroke="#000" stroke-width="1.6"/>
<text x="566.5" y="900.6" font-size="10.5" text-anchor="end" fill="#111">100</text>
<line x1="570.30" y1="931.58" x2="575.30" y2="931.58" stroke="#000" stroke-width="1.6"/>
<text x="566.5" y="935.4" font-size="10.5" text-anchor="end" fill="#111">80</text>
<line x1="570.30" y1="966.36" x2="575.30" y2="966.36" stroke="#000" stroke-width="1.6"/>
<text x="566.5" y="970.1" font-size="10.5" text-anchor="end" fill="#111">60</text>
<line x1="570.30" y1="1001.14" x2="575.30" y2="1001.14" stroke="#000" stroke-width="1.6"/>
<text x="566.5" y="1004.9" font-size="10.5" text-anchor="end" fill="#111">40</text>
<line x1="570.30" y1="1035.92" x2="575.30" y2="1035.92" stroke="#000" stroke-width="1.6"/>
<text x="566.5" y="1039.7" font-size="10.5" text-anchor="end" fill="#111">20</text>
<line x1="570.30" y1="1070.70" x2="575.30" y2="1070.70" stroke="#000" stroke-width="1.6"/>
<text x="566.5" y="1074.5" font-size="10.5" text-anchor="end" fill="#111">0</text>
<text x="0" y="0" font-size="17.7" text-anchor="middle" transform="translate(548.9,988.7) rotate(-90)">Inhibition %</text>
<path d="M620.3,937.4 V931.5 H670.5 V937.4" fill="none" stroke="#000" stroke-width="2.0"/>
<path d="M640.20,925.10 L640.20,921.90 M640.20,925.10 L643.24,924.11 M640.20,925.10 L642.08,927.69 M640.20,925.10 L638.32,927.69 M640.20,925.10 L637.16,924.11 " stroke="#000" stroke-width="1.75" stroke-linecap="round" fill="none"/>
<circle cx="640.20" cy="925.10" r="1.3" fill="#000"/>
<path d="M649.00,925.10 L649.00,921.90 M649.00,925.10 L652.04,924.11 M649.00,925.10 L650.88,927.69 M649.00,925.10 L647.12,927.69 M649.00,925.10 L645.96,924.11 " stroke="#000" stroke-width="1.75" stroke-linecap="round" fill="none"/>
<circle cx="649.00" cy="925.10" r="1.3" fill="#000"/>
<circle cx="621.1" cy="991.7" r="4.9" fill="none" stroke="#777777" stroke-width="1.6"/>
<circle cx="621.1" cy="1003.3" r="4.9" fill="none" stroke="#777777" stroke-width="1.6"/>
<circle cx="621.1" cy="1021.6" r="4.9" fill="none" stroke="#777777" stroke-width="1.6"/>
<circle cx="621.1" cy="1047.8" r="4.9" fill="none" stroke="#777777" stroke-width="1.6"/>
<line x1="621.10" y1="995.50" x2="621.10" y2="1037.60" stroke="#000" stroke-width="1.8"/>
<line x1="617.60" y1="995.50" x2="624.60" y2="995.50" stroke="#000" stroke-width="1.8"/>
<line x1="617.60" y1="1037.60" x2="624.60" y2="1037.60" stroke="#000" stroke-width="1.8"/>
<line x1="613.60" y1="1015.80" x2="628.60" y2="1015.80" stroke="#000" stroke-width="2.6"/>
<circle cx="670.5" cy="959.2" r="4.9" fill="none" stroke="#777777" stroke-width="1.6"/>
<circle cx="670.5" cy="961.5" r="4.9" fill="none" stroke="#777777" stroke-width="1.6"/>
<circle cx="670.5" cy="966.0" r="4.9" fill="none" stroke="#777777" stroke-width="1.6"/>
<circle cx="670.5" cy="970.2" r="4.9" fill="none" stroke="#777777" stroke-width="1.6"/>
<line x1="670.50" y1="959.60" x2="670.50" y2="967.60" stroke="#000" stroke-width="1.8"/>
<line x1="667.00" y1="959.60" x2="674.00" y2="959.60" stroke="#000" stroke-width="1.8"/>
<line x1="667.00" y1="967.60" x2="674.00" y2="967.60" stroke="#000" stroke-width="1.8"/>
<line x1="663.00" y1="963.50" x2="678.00" y2="963.50" stroke="#000" stroke-width="2.6"/>
<text x="584.2" y="1094.9" font-size="13">GIRK2+G<tspan font-size="7.9" dy="8.1" fill="#333">βγ</tspan></text>
<text x="662.1" y="1094.9" font-size="13">GIRK4+G<tspan font-size="7.9" dy="8.1" fill="#333">βγ</tspan></text>
</svg></body></html>
